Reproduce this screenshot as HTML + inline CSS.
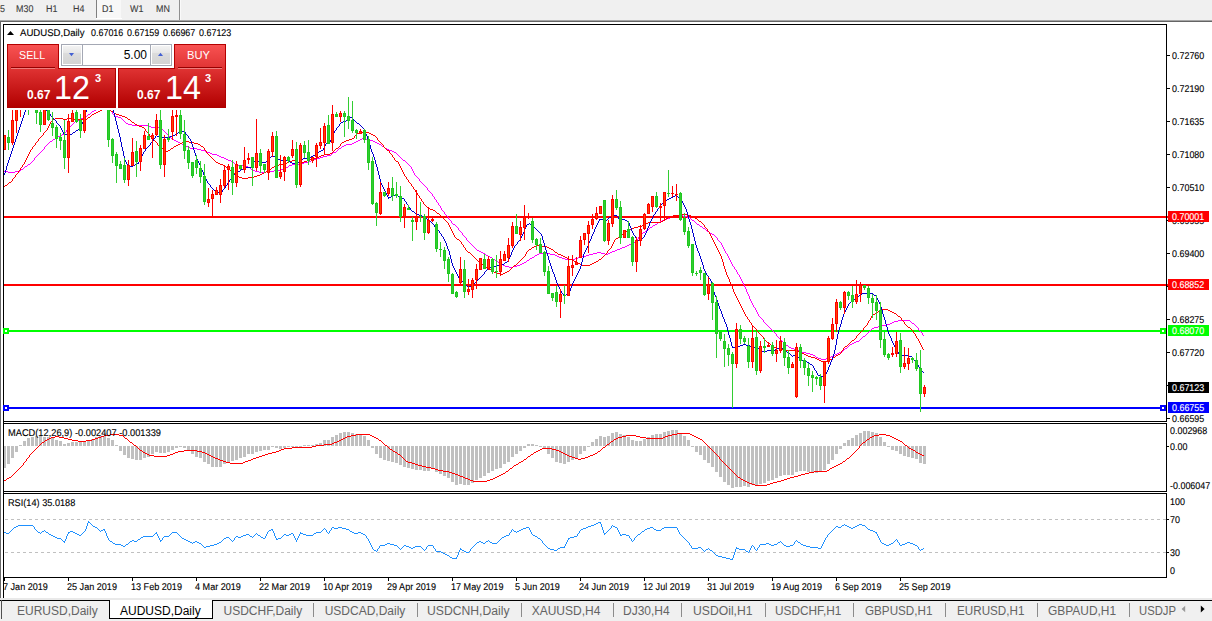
<!DOCTYPE html>
<html lang="en">
<head>
<meta charset="utf-8">
<title>AUDUSD,Daily</title>
<style>
html,body{margin:0;padding:0;background:#fff;}
body{width:1212px;height:621px;position:relative;overflow:hidden;font-family:"Liberation Sans",sans-serif;}
#chart{position:absolute;left:0;top:0;}
.t9{position:absolute;text-rendering:geometricPrecision;font-size:9.8px;line-height:11px;height:11px;white-space:pre;color:#000;transform-origin:0 0;-webkit-text-stroke:0.12px currentColor;}
.t9.w{color:#fff;}
.pbox{position:absolute;left:1168px;width:41px;height:11px;}
/* toolbar */
#tb{position:absolute;left:0;top:0;width:1212px;height:20px;background:#f0f0f0;}
#tb .b{position:absolute;text-rendering:geometricPrecision;top:3.6px;font-size:9.8px;line-height:11px;color:#3a3a3a;white-space:pre;transform:scaleX(0.911);transform-origin:0 0;-webkit-text-stroke:0.1px currentColor;}
#tbline1{position:absolute;left:0;top:20px;width:1212px;height:1px;background:#a6a6a6;}
#tbline2{position:absolute;left:0;top:21px;width:1212px;height:1px;background:#646464;}
#leftedge{position:absolute;left:0;top:21px;width:1px;height:577px;background:#696969;}
#d1{position:absolute;left:97px;top:0;width:24px;height:18px;background:#f8f8f8;}
#d1b{position:absolute;left:96px;top:18px;width:26px;height:1px;background:#fff;}
.vsep{position:absolute;top:0;width:1px;height:18px;background:#a0a0a0;}
/* trade panel */
.red{position:absolute;box-sizing:border-box;}
#sellTab{left:7px;top:44px;width:52px;height:24px;background:linear-gradient(#f85252,#e03434);border:1px solid #b40000;border-bottom:none;}
#buyTab{left:174px;top:44px;width:52px;height:24px;background:linear-gradient(#f85252,#e03434);border:1px solid #b40000;border-bottom:none;}
#sellBlk{left:7px;top:68px;width:109px;height:40px;background:linear-gradient(#df3232,#b20000);border:1px solid #ae0000;}
#buyBlk{left:118px;top:68px;width:108px;height:40px;background:linear-gradient(#df3232,#b20000);border:1px solid #ae0000;}
.patch{position:absolute;top:68px;height:1px;width:50px;background:#df3333;}
.pl{position:absolute;color:#fff;white-space:pre;}
.lbl{font-size:11.5px;line-height:12px;top:49.2px;transform-origin:0 0;}
.uline{position:absolute;top:67px;height:1px;background:#960000;}
.uline2{position:absolute;top:68px;height:1px;background:#ee7c7c;}
.sm{font-size:12px;font-weight:bold;line-height:12px;top:89.3px;}
.big{font-size:34px;line-height:34px;top:70px;transform:scaleX(0.95);transform-origin:0 0;}
.sup{font-size:11px;font-weight:bold;line-height:11px;top:73px;}
#spin{position:absolute;left:61px;top:44px;width:111px;height:22px;box-sizing:border-box;border:1px solid #a4a8b4;background:#fff;}
.sbtn{position:absolute;top:1px;width:18px;height:18px;background:linear-gradient(#f3f3f3 0,#e6e6e6 38%,#dcdcdc 40%,#d3d3d3 100%);}
.ssep{position:absolute;top:0;width:1px;height:20px;background:#a4a8b4;}
#vol{position:absolute;left:100px;top:48px;width:47px;text-align:right;font-size:12px;line-height:14px;color:#000;}
/* bottom tabs */
#tabs{position:absolute;left:0;top:598px;width:1212px;height:23px;background:#f0f0f0;}
#tabsTop{position:absolute;left:0;top:2px;width:1212px;height:1px;background:#000;}
#tabsHi{position:absolute;left:0;top:0;width:1212px;height:2px;background:#e9e9e9;}
.tab{position:absolute;top:6px;transform-origin:0 0;font-size:12px;line-height:14px;color:#646464;white-space:pre;}
.tab.act{color:#000;}
#acttab{position:absolute;left:109px;top:2px;width:104px;height:19px;background:#fff;border:1px solid #000;border-top:none;box-sizing:border-box;}
.sep{position:absolute;top:5px;width:1px;height:14px;background:#8c8c8c;}
#tabL{position:absolute;left:1px;top:2px;width:1px;height:19px;background:#505050;}
</style>
</head>
<body>
<div id="tb">
<div id="d1"></div><div id="d1b"></div>
<div class="vsep" style="left:96px;background:#808080"></div>
<div class="vsep" style="left:179px;height:20px;background:#909090"></div>
<div class="vsep" style="left:180px;height:20px;background:#fafafa"></div>
<div class="b" style="left:0px">5</div>
<div class="b" style="left:15.5px">M30</div>
<div class="b" style="left:46px">H1</div>
<div class="b" style="left:73px">H4</div>
<div class="b" style="left:102px">D1</div>
<div class="b" style="left:129.5px">W1</div>
<div class="b" style="left:156px">MN</div>
</div>
<div id="tbline1"></div><div id="tbline2"></div><div id="leftedge"></div>

<svg id="chart" width="1212" height="621" viewBox="0 0 1212 621">
<defs><clipPath id="mainclip"><rect x="4" y="25" width="1162" height="396"/></clipPath></defs>
<g shape-rendering="crispEdges">
<rect x="4" y="216" width="1164" height="2" fill="#ff0000"/>
<rect x="4" y="284" width="1164" height="2" fill="#ff0000"/>
<rect x="4" y="330" width="1162" height="2" fill="#00ff00"/>
<rect x="4" y="407" width="1162" height="2" fill="#0000ff"/>
</g>
<g clip-path="url(#mainclip)">
<path d="M34.5 158v2M44.5 147v2M66.5 130v2M112.5 112v2M331.5 153v2M411.5 167v2M412.5 169v2M413.5 171v2M414.5 173v2M419.5 179v2M427.5 188v2M432.5 194v2M434.5 197v2M436.5 200v2M438.5 203v2M440.5 206v2M441.5 208v2M444.5 212v2M448.5 217v2M451.5 221v2M458.5 228v2M462.5 233v2M466.5 238v2M638.5 237v2M717.5 238v2M721.5 243v2M722.5 245v2M723.5 247v2M724.5 249v2M725.5 251v2M727.5 254v2M728.5 256v2M729.5 258v2M730.5 260v2M731.5 262v2M732.5 264v2M734.5 267v2M736.5 270v2M737.5 272v2M739.5 275v2M740.5 277v2M741.5 279v2M742.5 281v2M743.5 283v2M744.5 285v2M745.5 287v2M746.5 289v3M747.5 292v2M748.5 294v2M749.5 296v3M750.5 299v2M751.5 301v2M752.5 303v2M753.5 305v2M755.5 308v2M756.5 310v2M757.5 312v2M758.5 314v2M763.5 320v2M776.5 334v2M918.5 328v2M922.5 333v2M4 171.5h4M15 171.5h5M255 171.5h4M266 171.5h8M8 172.5h7M259 172.5h7M20 170.5h1M253 170.5h2M274 170.5h7M21 169.5h2M251 169.5h2M281 169.5h2M23 168.5h1M250 168.5h1M283 168.5h3M24 167.5h1M248 167.5h2M286 167.5h2M25 166.5h2M246 166.5h2M288 166.5h1M410 166.5h1M27 165.5h1M236 165.5h10M289 165.5h3M409 165.5h1M28 164.5h2M235 164.5h1M292 164.5h7M408 164.5h1M30 163.5h1M234 163.5h1M299 163.5h5M407 163.5h1M31 162.5h1M233 162.5h1M304 162.5h4M406 162.5h1M32 161.5h1M231 161.5h2M308 161.5h3M405 161.5h1M33 160.5h1M228 160.5h3M311 160.5h2M403 160.5h2M35 157.5h1M221 157.5h3M320 157.5h3M400 157.5h1M36 156.5h1M219 156.5h2M323 156.5h4M399 156.5h1M37 155.5h1M217 155.5h2M327 155.5h4M398 155.5h1M38 154.5h1M212 154.5h5M397 154.5h1M39 153.5h1M210 153.5h2M332 153.5h1M396 153.5h1M40 152.5h1M207 152.5h3M333 152.5h3M394 152.5h2M41 151.5h1M205 151.5h2M336 151.5h1M392 151.5h2M42 150.5h1M201 150.5h4M337 150.5h1M389 150.5h3M43 149.5h1M197 149.5h4M338 149.5h1M387 149.5h2M45 146.5h1M186 146.5h2M342 146.5h2M382 146.5h2M46 145.5h1M184 145.5h2M344 145.5h2M381 145.5h1M47 144.5h1M182 144.5h2M346 144.5h6M379 144.5h2M48 143.5h1M180 143.5h2M352 143.5h2M377 143.5h2M49 142.5h1M178 142.5h2M354 142.5h2M375 142.5h2M50 141.5h2M176 141.5h2M356 141.5h2M373 141.5h2M52 140.5h1M174 140.5h2M358 140.5h2M369 140.5h4M53 139.5h2M172 139.5h2M360 139.5h2M365 139.5h4M55 138.5h1M171 138.5h1M362 138.5h3M56 137.5h2M170 137.5h1M58 136.5h2M169 136.5h1M60 135.5h2M168 135.5h1M62 134.5h2M167 134.5h1M64 133.5h1M166 133.5h1M65 132.5h1M165 132.5h1M67 129.5h1M161 129.5h2M68 128.5h1M160 128.5h1M69 127.5h1M151 127.5h9M70 126.5h1M148 126.5h3M71 125.5h1M132 125.5h16M72 124.5h1M128 124.5h4M73 123.5h1M126 123.5h2M74 122.5h1M125 122.5h1M75 121.5h2M124 121.5h1M77 120.5h2M123 120.5h1M79 119.5h2M122 119.5h1M81 118.5h2M121 118.5h1M83 117.5h2M118 117.5h3M85 116.5h2M115 116.5h3M87 115.5h1M114 115.5h1M88 114.5h2M113 114.5h1M90 113.5h1M91 112.5h1M92 111.5h2M111 111.5h1M94 110.5h2M110 110.5h1M96 109.5h2M108 109.5h2M98 108.5h2M107 108.5h1M100 107.5h7M163 130.5h1M164 131.5h1M188 147.5h2M341 147.5h1M384 147.5h1M190 148.5h7M339 148.5h2M385 148.5h2M224 158.5h2M316 158.5h4M401 158.5h1M226 159.5h2M313 159.5h3M402 159.5h1M415 175.5h1M416 176.5h1M417 177.5h1M418 178.5h1M420 181.5h1M421 182.5h1M422 183.5h1M423 184.5h1M424 185.5h1M425 186.5h1M426 187.5h1M428 190.5h1M429 191.5h1M430 192.5h1M431 193.5h1M433 196.5h1M435 199.5h1M437 202.5h1M439 205.5h1M442 210.5h1M443 211.5h1M445 214.5h1M446 215.5h1M673 215.5h10M447 216.5h1M671 216.5h2M683 216.5h4M449 219.5h1M664 219.5h3M691 219.5h1M450 220.5h1M662 220.5h2M692 220.5h2M452 223.5h1M657 223.5h1M696 223.5h1M453 224.5h2M655 224.5h2M697 224.5h2M455 225.5h1M653 225.5h2M699 225.5h1M456 226.5h1M652 226.5h1M700 226.5h2M457 227.5h1M650 227.5h2M702 227.5h1M459 230.5h1M646 230.5h1M706 230.5h1M460 231.5h1M645 231.5h1M707 231.5h2M461 232.5h1M643 232.5h2M709 232.5h1M463 235.5h1M640 235.5h1M714 235.5h1M464 236.5h1M639 236.5h1M715 236.5h1M465 237.5h1M716 237.5h1M467 240.5h1M636 240.5h1M718 240.5h1M468 241.5h1M635 241.5h1M719 241.5h1M469 242.5h1M633 242.5h2M720 242.5h1M470 243.5h1M631 243.5h2M471 244.5h1M629 244.5h2M472 245.5h1M627 245.5h2M473 246.5h1M625 246.5h2M474 247.5h1M622 247.5h3M475 248.5h1M620 248.5h2M476 249.5h1M617 249.5h3M477 250.5h2M615 250.5h2M479 251.5h2M612 251.5h3M481 252.5h2M597 252.5h4M610 252.5h2M483 253.5h2M539 253.5h11M593 253.5h4M601 253.5h4M608 253.5h2M726 253.5h1M485 254.5h1M537 254.5h2M550 254.5h5M589 254.5h4M605 254.5h3M486 255.5h2M535 255.5h2M555 255.5h2M586 255.5h3M488 256.5h2M534 256.5h1M557 256.5h2M582 256.5h4M490 257.5h2M532 257.5h2M559 257.5h3M578 257.5h4M492 258.5h1M530 258.5h2M562 258.5h3M575 258.5h3M493 259.5h2M529 259.5h1M565 259.5h10M495 260.5h1M527 260.5h2M496 261.5h2M526 261.5h1M498 262.5h2M524 262.5h2M500 263.5h1M522 263.5h2M501 264.5h2M520 264.5h2M503 265.5h2M517 265.5h3M505 266.5h4M513 266.5h4M733 266.5h1M509 267.5h4M637 239.5h1M641 234.5h1M712 234.5h2M642 233.5h1M710 233.5h2M647 229.5h2M705 229.5h1M649 228.5h1M703 228.5h2M658 222.5h2M695 222.5h1M660 221.5h2M694 221.5h1M667 218.5h3M690 218.5h1M670 217.5h1M687 217.5h3M735 269.5h1M738 274.5h1M754 307.5h1M759 316.5h1M760 317.5h1M761 318.5h1M762 319.5h1M764 322.5h1M892 322.5h2M911 322.5h1M765 323.5h1M890 323.5h2M912 323.5h2M766 324.5h1M886 324.5h4M914 324.5h1M767 325.5h1M882 325.5h4M915 325.5h1M768 326.5h1M878 326.5h4M916 326.5h1M769 327.5h1M874 327.5h4M917 327.5h1M770 328.5h1M872 328.5h2M771 329.5h1M871 329.5h1M772 330.5h1M870 330.5h1M919 330.5h1M773 331.5h1M869 331.5h1M920 331.5h1M774 332.5h1M868 332.5h1M921 332.5h1M775 333.5h1M867 333.5h1M777 336.5h1M863 336.5h2M778 337.5h1M862 337.5h1M779 338.5h1M861 338.5h1M780 339.5h1M860 339.5h1M781 340.5h1M859 340.5h1M782 341.5h1M856 341.5h3M783 342.5h1M854 342.5h2M784 343.5h1M852 343.5h2M785 344.5h1M850 344.5h2M786 345.5h2M849 345.5h1M788 346.5h1M848 346.5h1M789 347.5h2M847 347.5h1M791 348.5h3M845 348.5h2M794 349.5h4M844 349.5h1M798 350.5h2M843 350.5h1M800 351.5h2M841 351.5h2M802 352.5h4M839 352.5h2M806 353.5h4M837 353.5h2M810 354.5h3M835 354.5h2M813 355.5h2M833 355.5h2M815 356.5h1M831 356.5h2M816 357.5h2M828 357.5h3M818 358.5h3M826 358.5h2M821 359.5h5M865 335.5h1M923 335.5h1M866 334.5h1M894 321.5h4M910 321.5h1M898 320.5h12" fill="none" stroke="#ff00ff" stroke-width="1" shape-rendering="crispEdges"/>
<path d="M12.5 179v2M15.5 175v2M18.5 171v2M20.5 168v2M22.5 165v2M24.5 162v2M25.5 160v2M26.5 158v2M27.5 156v2M28.5 154v2M29.5 152v2M30.5 150v2M32.5 147v2M35.5 143v2M38.5 139v2M43.5 133v2M47.5 128v2M48.5 126v2M49.5 124v2M50.5 122v2M145.5 129v2M149.5 134v2M157.5 143v2M204.5 148v2M206.5 151v2M340.5 144v2M354.5 136v2M377.5 138v2M383.5 145v2M389.5 151v2M392.5 155v2M394.5 158v2M398.5 162v2M399.5 164v2M400.5 166v2M401.5 168v2M402.5 170v2M403.5 172v2M404.5 174v2M406.5 177v2M408.5 180v2M411.5 184v2M413.5 187v2M415.5 190v2M417.5 193v2M419.5 196v2M421.5 199v2M423.5 202v2M448.5 223v2M449.5 225v2M450.5 227v2M451.5 229v2M452.5 231v2M453.5 233v2M454.5 235v2M461.5 242v2M463.5 245v2M465.5 248v2M525.5 254v2M526.5 252v2M607.5 251v2M611.5 246v2M612.5 244v2M613.5 242v2M614.5 240v2M704.5 225v2M707.5 229v2M709.5 232v2M710.5 234v2M711.5 236v2M712.5 238v2M713.5 240v2M714.5 242v2M715.5 244v2M716.5 246v2M717.5 248v2M718.5 250v2M719.5 252v2M720.5 254v2M721.5 256v3M722.5 259v3M723.5 262v4M724.5 266v3M725.5 269v3M726.5 272v3M727.5 275v2M728.5 277v2M729.5 279v3M730.5 282v2M731.5 284v2M732.5 286v3M733.5 289v3M734.5 292v2M735.5 294v2M736.5 296v2M737.5 298v2M738.5 300v2M739.5 302v2M740.5 304v2M741.5 306v2M742.5 308v2M743.5 310v2M744.5 312v2M745.5 314v2M747.5 317v2M749.5 320v2M751.5 323v2M756.5 329v2M763.5 337v2M841.5 351v2M843.5 348v2M856.5 336v2M863.5 328v2M867.5 323v2M868.5 321v2M870.5 318v2M871.5 316v2M901.5 318v2M904.5 322v2M913.5 331v2M915.5 334v2M916.5 336v2M918.5 339v2M919.5 341v2M920.5 343v2M921.5 345v2M922.5 347v2M4 186.5h1M412 186.5h1M5 185.5h2M7 184.5h1M8 183.5h1M410 183.5h1M9 182.5h2M409 182.5h1M11 181.5h1M13 178.5h1M242 178.5h6M14 177.5h1M239 177.5h3M248 177.5h6M16 174.5h1M235 174.5h1M260 174.5h2M17 173.5h1M234 173.5h1M262 173.5h2M19 170.5h1M230 170.5h2M268 170.5h1M21 167.5h1M226 167.5h2M272 167.5h2M23 164.5h1M220 164.5h3M279 164.5h4M31 149.5h1M163 149.5h1M170 149.5h1M335 149.5h1M386 149.5h1M33 146.5h1M159 146.5h1M174 146.5h2M201 146.5h2M339 146.5h1M34 145.5h1M158 145.5h1M176 145.5h2M200 145.5h1M36 142.5h1M156 142.5h1M182 142.5h4M189 142.5h5M342 142.5h2M380 142.5h1M37 141.5h1M155 141.5h1M186 141.5h3M344 141.5h2M379 141.5h1M39 138.5h1M152 138.5h1M352 138.5h2M40 137.5h1M151 137.5h1M376 137.5h1M41 136.5h1M150 136.5h1M375 136.5h1M42 135.5h1M355 135.5h1M373 135.5h2M44 132.5h1M147 132.5h1M359 132.5h10M45 131.5h1M146 131.5h1M46 130.5h1M51 121.5h1M131 121.5h1M52 120.5h1M130 120.5h1M53 119.5h2M63 119.5h4M74 119.5h13M128 119.5h2M55 118.5h8M67 118.5h7M87 118.5h1M127 118.5h1M88 117.5h2M125 117.5h2M90 116.5h1M122 116.5h3M91 115.5h1M119 115.5h3M92 114.5h2M116 114.5h3M94 113.5h2M114 113.5h2M96 112.5h2M113 112.5h1M98 111.5h2M111 111.5h2M100 110.5h2M109 110.5h2M102 109.5h2M107 109.5h2M104 108.5h3M132 122.5h2M134 123.5h1M135 124.5h2M137 125.5h2M139 126.5h3M142 127.5h2M144 128.5h1M148 133.5h1M357 133.5h2M369 133.5h2M153 139.5h1M349 139.5h3M154 140.5h1M346 140.5h3M378 140.5h1M160 147.5h2M173 147.5h1M203 147.5h1M338 147.5h1M384 147.5h1M162 148.5h1M171 148.5h2M336 148.5h2M385 148.5h1M164 150.5h2M168 150.5h2M205 150.5h1M334 150.5h1M387 150.5h2M166 151.5h2M333 151.5h1M178 144.5h2M198 144.5h2M382 144.5h1M180 143.5h2M194 143.5h4M341 143.5h1M381 143.5h1M207 153.5h1M330 153.5h2M390 153.5h1M208 154.5h1M324 154.5h6M391 154.5h1M209 155.5h1M321 155.5h3M210 156.5h1M319 156.5h2M211 157.5h1M317 157.5h2M393 157.5h1M212 158.5h1M314 158.5h3M213 159.5h1M310 159.5h4M214 160.5h1M292 160.5h4M307 160.5h3M395 160.5h1M215 161.5h1M289 161.5h3M296 161.5h2M304 161.5h3M396 161.5h2M216 162.5h2M287 162.5h2M298 162.5h6M218 163.5h2M283 163.5h4M223 165.5h2M276 165.5h3M225 166.5h1M274 166.5h2M228 168.5h1M271 168.5h1M229 169.5h1M269 169.5h2M232 171.5h1M266 171.5h2M233 172.5h1M264 172.5h2M236 175.5h1M257 175.5h3M237 176.5h2M254 176.5h3M405 176.5h1M332 152.5h1M356 134.5h1M371 134.5h2M407 179.5h1M414 189.5h1M416 192.5h1M418 195.5h1M420 198.5h1M422 201.5h1M424 204.5h1M425 205.5h1M426 206.5h1M427 207.5h1M428 208.5h2M430 209.5h3M433 210.5h2M435 211.5h1M436 212.5h1M437 213.5h2M439 214.5h1M680 214.5h7M440 215.5h1M673 215.5h7M687 215.5h4M441 216.5h1M671 216.5h2M691 216.5h2M442 217.5h1M668 217.5h3M693 217.5h2M443 218.5h1M666 218.5h2M695 218.5h2M444 219.5h1M665 219.5h1M697 219.5h1M445 220.5h1M663 220.5h2M698 220.5h1M446 221.5h1M661 221.5h2M699 221.5h2M447 222.5h1M648 222.5h13M701 222.5h1M455 237.5h1M618 237.5h2M456 238.5h1M616 238.5h2M457 239.5h2M615 239.5h1M459 240.5h1M460 241.5h1M462 244.5h1M464 247.5h1M532 247.5h2M547 247.5h2M466 250.5h1M528 250.5h1M553 250.5h1M608 250.5h1M467 251.5h1M527 251.5h1M554 251.5h1M468 252.5h2M555 252.5h2M470 253.5h1M557 253.5h1M606 253.5h1M471 254.5h1M558 254.5h3M605 254.5h1M472 255.5h1M561 255.5h2M604 255.5h1M473 256.5h1M524 256.5h1M563 256.5h2M603 256.5h1M474 257.5h1M523 257.5h1M565 257.5h2M602 257.5h1M475 258.5h1M522 258.5h1M567 258.5h2M601 258.5h1M476 259.5h1M521 259.5h1M569 259.5h3M599 259.5h2M477 260.5h1M520 260.5h1M572 260.5h2M598 260.5h1M478 261.5h1M519 261.5h1M574 261.5h2M596 261.5h2M479 262.5h2M518 262.5h1M576 262.5h2M594 262.5h2M481 263.5h1M517 263.5h1M578 263.5h2M592 263.5h2M482 264.5h2M516 264.5h1M580 264.5h2M590 264.5h2M484 265.5h1M514 265.5h2M582 265.5h8M485 266.5h1M513 266.5h1M486 267.5h2M512 267.5h1M488 268.5h1M511 268.5h1M489 269.5h2M510 269.5h1M491 270.5h1M509 270.5h1M492 271.5h2M507 271.5h2M494 272.5h2M505 272.5h2M496 273.5h4M503 273.5h2M500 274.5h3M529 249.5h2M551 249.5h2M609 249.5h1M531 248.5h1M549 248.5h2M610 248.5h1M534 246.5h3M542 246.5h5M537 245.5h5M620 236.5h1M621 235.5h1M622 234.5h2M624 233.5h1M625 232.5h1M626 231.5h2M708 231.5h1M628 230.5h2M630 229.5h2M632 228.5h2M706 228.5h1M634 227.5h4M705 227.5h1M638 226.5h4M642 225.5h2M644 224.5h2M703 224.5h1M646 223.5h2M702 223.5h1M746 316.5h1M898 316.5h2M748 319.5h1M750 322.5h1M752 325.5h1M866 325.5h1M906 325.5h1M753 326.5h1M865 326.5h1M907 326.5h1M754 327.5h1M864 327.5h1M908 327.5h2M755 328.5h1M910 328.5h1M757 331.5h1M861 331.5h1M758 332.5h1M860 332.5h1M759 333.5h1M859 333.5h1M914 333.5h1M760 334.5h1M858 334.5h1M761 335.5h1M857 335.5h1M762 336.5h1M764 339.5h1M854 339.5h1M765 340.5h1M852 340.5h2M766 341.5h1M851 341.5h1M767 342.5h1M850 342.5h1M768 343.5h2M849 343.5h1M770 344.5h1M848 344.5h1M771 345.5h1M847 345.5h1M772 346.5h2M845 346.5h2M774 347.5h2M844 347.5h1M776 348.5h3M779 349.5h5M923 349.5h1M784 350.5h14M842 350.5h1M798 351.5h2M800 352.5h2M802 353.5h2M840 353.5h1M804 354.5h2M838 354.5h2M806 355.5h2M836 355.5h2M808 356.5h3M835 356.5h1M811 357.5h4M833 357.5h2M815 358.5h2M832 358.5h1M817 359.5h2M830 359.5h2M819 360.5h2M829 360.5h1M821 361.5h8M855 338.5h1M917 338.5h1M862 330.5h1M912 330.5h1M869 320.5h1M902 320.5h1M872 315.5h1M897 315.5h1M873 314.5h2M896 314.5h1M875 313.5h1M894 313.5h2M876 312.5h2M892 312.5h2M878 311.5h1M890 311.5h2M879 310.5h2M888 310.5h2M881 309.5h7M900 317.5h1M903 321.5h1M905 324.5h1M911 329.5h1" fill="none" stroke="#ff0000" stroke-width="1" shape-rendering="crispEdges"/>
<path d="M4.5 173v2M5.5 170v3M6.5 166v4M7.5 163v3M8.5 160v3M9.5 157v3M10.5 154v3M11.5 151v3M12.5 148v3M13.5 145v3M14.5 142v3M15.5 139v3M16.5 136v3M17.5 133v3M18.5 130v3M19.5 127v3M20.5 124v3M21.5 121v3M22.5 118v3M23.5 115v3M24.5 112v3M25.5 109v3M26.5 107v2M27.5 104v3M28.5 101v3M29.5 99v2M30.5 97v2M38.5 92v2M39.5 94v2M40.5 96v2M41.5 98v2M42.5 100v3M43.5 103v2M44.5 105v2M45.5 107v2M46.5 109v2M50.5 114v2M56.5 121v2M60.5 126v2M61.5 128v2M62.5 130v2M63.5 132v2M79.5 127v2M81.5 124v2M82.5 122v2M83.5 119v3M84.5 115v4M85.5 112v3M86.5 109v3M87.5 107v2M88.5 105v2M89.5 102v3M90.5 100v2M91.5 98v2M92.5 96v2M108.5 96v2M109.5 98v3M110.5 101v2M111.5 103v3M112.5 106v3M113.5 109v4M114.5 113v4M115.5 117v4M116.5 121v4M117.5 125v4M118.5 129v4M119.5 133v4M120.5 137v5M121.5 142v5M122.5 147v4M123.5 151v5M124.5 156v4M125.5 160v2M126.5 162v2M127.5 164v2M138.5 162v2M139.5 160v2M140.5 158v2M141.5 156v2M142.5 154v2M143.5 152v2M145.5 149v2M150.5 143v2M153.5 139v2M155.5 136v2M185.5 132v2M188.5 136v2M190.5 139v2M191.5 141v3M192.5 144v3M193.5 147v3M194.5 150v3M195.5 153v3M196.5 156v3M197.5 159v2M198.5 161v2M199.5 163v2M200.5 165v3M201.5 168v2M202.5 170v2M203.5 172v3M204.5 175v2M205.5 177v2M206.5 179v2M207.5 181v2M210.5 185v2M222.5 190v2M225.5 186v2M227.5 183v2M229.5 180v2M232.5 176v2M251.5 165v2M252.5 163v2M253.5 161v2M323.5 148v2M324.5 146v2M325.5 144v2M330.5 140v2M331.5 138v2M332.5 135v3M333.5 133v2M334.5 131v2M336.5 128v2M339.5 124v2M364.5 129v2M365.5 131v3M366.5 134v2M367.5 136v3M368.5 139v3M369.5 142v3M370.5 145v4M371.5 149v3M372.5 152v2M373.5 154v3M374.5 157v3M375.5 160v4M376.5 164v3M377.5 167v4M378.5 171v4M379.5 175v4M380.5 179v4M381.5 183v2M382.5 185v2M383.5 187v2M384.5 189v2M385.5 191v2M386.5 193v2M387.5 195v2M388.5 197v2M404.5 199v2M406.5 202v2M408.5 205v2M410.5 208v2M434.5 225v2M439.5 231v2M441.5 234v2M443.5 237v2M444.5 239v2M445.5 241v2M446.5 243v3M447.5 246v3M448.5 249v2M449.5 251v4M450.5 255v4M451.5 259v4M452.5 263v3M453.5 266v2M454.5 268v2M455.5 270v2M456.5 272v2M457.5 274v2M458.5 276v2M484.5 272v2M508.5 259v2M509.5 257v2M510.5 255v2M511.5 252v3M512.5 250v2M513.5 248v2M514.5 246v2M517.5 242v2M520.5 238v2M521.5 236v2M522.5 234v2M523.5 232v2M524.5 229v3M525.5 227v2M526.5 225v2M541.5 234v2M542.5 236v4M543.5 240v3M544.5 243v4M545.5 247v3M546.5 250v3M547.5 253v3M548.5 256v4M549.5 260v3M550.5 263v3M551.5 266v3M552.5 269v3M553.5 272v2M554.5 274v3M555.5 277v3M556.5 280v3M557.5 283v2M558.5 285v2M559.5 287v2M560.5 289v2M561.5 291v2M568.5 293v2M569.5 291v2M570.5 288v3M571.5 286v2M572.5 283v3M573.5 281v2M574.5 279v2M575.5 277v2M576.5 275v2M577.5 273v2M578.5 271v2M579.5 269v2M580.5 266v3M581.5 262v4M582.5 258v4M583.5 254v4M584.5 252v2M585.5 250v2M586.5 248v2M587.5 246v2M588.5 243v3M589.5 241v2M590.5 239v2M591.5 236v3M592.5 234v2M593.5 232v2M594.5 229v3M595.5 227v2M596.5 225v2M597.5 223v2M598.5 221v2M599.5 219v2M618.5 217v2M628.5 221v2M629.5 223v3M630.5 226v2M631.5 228v3M632.5 231v2M633.5 233v2M635.5 236v2M636.5 238v2M644.5 235v2M645.5 233v2M646.5 231v2M647.5 228v3M648.5 226v2M649.5 223v3M650.5 221v2M651.5 219v2M652.5 217v2M653.5 215v2M655.5 212v2M657.5 209v2M659.5 206v2M681.5 199v2M682.5 201v2M683.5 203v2M684.5 205v2M685.5 207v2M686.5 209v3M687.5 212v3M688.5 215v4M689.5 219v3M690.5 222v3M691.5 225v4M692.5 229v4M693.5 233v4M694.5 237v4M695.5 241v4M696.5 245v3M697.5 248v3M698.5 251v2M699.5 253v3M700.5 256v3M701.5 259v3M702.5 262v3M703.5 265v4M704.5 269v2M705.5 271v2M706.5 273v2M708.5 276v2M710.5 279v2M711.5 281v2M712.5 283v4M713.5 287v5M714.5 292v3M715.5 295v2M716.5 297v3M717.5 300v3M718.5 303v3M719.5 306v3M720.5 309v2M721.5 311v3M722.5 314v3M723.5 317v2M724.5 319v3M725.5 322v2M726.5 324v3M727.5 327v4M728.5 331v4M729.5 335v3M730.5 338v4M731.5 342v4M732.5 346v2M813.5 366v2M814.5 368v2M816.5 371v2M817.5 373v2M826.5 372v2M827.5 370v2M828.5 367v3M829.5 365v2M830.5 362v3M831.5 360v2M832.5 357v3M833.5 354v3M834.5 350v4M835.5 345v5M836.5 339v6M837.5 334v5M838.5 330v4M839.5 327v3M840.5 324v3M841.5 320v4M842.5 317v3M843.5 314v3M844.5 312v2M845.5 310v2M846.5 308v2M847.5 306v2M848.5 304v2M876.5 296v2M877.5 298v2M878.5 300v2M879.5 302v2M880.5 304v3M881.5 307v3M882.5 310v4M883.5 314v3M884.5 317v3M885.5 320v4M886.5 324v3M887.5 327v4M888.5 331v3M889.5 334v2M890.5 336v2M891.5 338v3M892.5 341v2M893.5 343v2M894.5 345v2M895.5 347v2M897.5 350v2M898.5 352v2M912.5 357v2M915.5 361v2M918.5 365v2M921.5 369v2M31 96.5h2M33 95.5h1M93 95.5h1M106 95.5h2M34 94.5h2M94 94.5h2M105 94.5h1M36 93.5h2M96 93.5h1M104 93.5h1M47 111.5h1M48 112.5h1M49 113.5h1M51 116.5h1M52 117.5h1M349 117.5h3M53 118.5h1M348 118.5h1M352 118.5h1M54 119.5h1M347 119.5h1M353 119.5h1M55 120.5h1M346 120.5h1M354 120.5h1M57 123.5h1M340 123.5h1M357 123.5h2M58 124.5h1M359 124.5h1M59 125.5h1M360 125.5h1M64 134.5h3M70 134.5h2M175 134.5h2M186 134.5h1M67 135.5h3M156 135.5h1M172 135.5h3M187 135.5h1M72 133.5h1M177 133.5h1M73 132.5h2M178 132.5h1M75 131.5h1M179 131.5h1M182 131.5h3M76 130.5h2M180 130.5h2M335 130.5h1M78 129.5h1M80 126.5h1M338 126.5h1M361 126.5h1M97 92.5h1M102 92.5h2M98 91.5h2M101 91.5h1M100 90.5h1M128 165.5h2M133 165.5h2M130 166.5h3M135 164.5h2M137 163.5h1M292 163.5h4M144 151.5h1M319 151.5h2M146 148.5h1M147 147.5h1M148 146.5h1M149 145.5h1M151 142.5h1M328 142.5h2M152 141.5h1M154 138.5h1M189 138.5h1M157 136.5h2M170 136.5h2M159 137.5h11M208 183.5h1M209 184.5h1M211 187.5h1M212 188.5h1M224 188.5h1M213 189.5h1M223 189.5h1M214 190.5h2M216 191.5h2M218 192.5h4M226 185.5h1M228 182.5h1M230 179.5h1M231 178.5h1M233 175.5h1M234 174.5h2M236 173.5h1M237 172.5h1M238 171.5h2M240 170.5h1M241 169.5h2M243 168.5h2M245 167.5h6M254 161.5h8M266 161.5h1M288 161.5h2M299 161.5h1M262 162.5h4M290 162.5h2M296 162.5h3M267 160.5h1M280 160.5h8M300 160.5h2M268 159.5h1M278 159.5h2M302 159.5h1M269 158.5h1M276 158.5h2M303 158.5h6M270 157.5h1M275 157.5h1M309 157.5h2M271 156.5h1M273 156.5h2M311 156.5h2M272 155.5h1M313 155.5h2M315 154.5h1M316 153.5h2M318 152.5h1M321 150.5h2M326 143.5h2M337 127.5h1M362 127.5h1M341 122.5h2M356 122.5h1M343 121.5h3M355 121.5h1M363 128.5h1M389 197.5h2M400 197.5h2M671 197.5h2M678 197.5h2M391 196.5h2M398 196.5h2M673 196.5h2M677 196.5h1M393 195.5h2M396 195.5h2M675 195.5h2M395 194.5h1M402 198.5h2M669 198.5h2M680 198.5h1M405 201.5h1M665 201.5h1M407 204.5h1M661 204.5h1M409 207.5h1M411 210.5h1M412 211.5h2M656 211.5h1M414 212.5h1M415 213.5h2M417 214.5h2M654 214.5h1M419 215.5h3M612 215.5h5M422 216.5h2M611 216.5h1M617 216.5h1M424 217.5h1M609 217.5h2M425 218.5h2M608 218.5h1M427 219.5h1M600 219.5h4M607 219.5h1M619 219.5h6M428 220.5h2M604 220.5h3M625 220.5h2M430 221.5h1M627 221.5h1M431 222.5h1M432 223.5h1M529 223.5h1M433 224.5h1M527 224.5h2M530 224.5h1M435 227.5h1M534 227.5h1M436 228.5h1M535 228.5h1M437 229.5h1M536 229.5h1M438 230.5h1M537 230.5h1M440 233.5h1M540 233.5h1M442 236.5h1M459 278.5h1M479 278.5h1M709 278.5h1M460 279.5h1M478 279.5h1M461 280.5h1M477 280.5h1M462 281.5h1M476 281.5h1M463 282.5h1M475 282.5h1M464 283.5h1M473 283.5h2M465 284.5h1M472 284.5h1M466 285.5h1M471 285.5h1M467 286.5h1M469 286.5h2M468 287.5h1M480 277.5h1M481 276.5h1M482 275.5h1M707 275.5h1M483 274.5h1M485 271.5h1M486 270.5h1M487 269.5h1M488 268.5h2M490 267.5h3M493 266.5h3M496 265.5h4M500 264.5h4M504 263.5h1M505 262.5h2M507 261.5h1M515 245.5h1M516 244.5h1M518 241.5h1M519 240.5h1M637 240.5h4M531 225.5h2M533 226.5h1M538 231.5h1M539 232.5h1M562 293.5h1M862 293.5h11M563 294.5h1M566 294.5h2M860 294.5h2M873 294.5h1M564 295.5h2M859 295.5h1M874 295.5h2M634 235.5h1M641 239.5h1M642 238.5h1M643 237.5h1M658 208.5h1M660 205.5h1M662 203.5h1M663 202.5h2M666 200.5h1M667 199.5h2M733 347.5h2M754 347.5h3M779 347.5h2M735 346.5h5M750 346.5h4M740 345.5h3M746 345.5h4M743 344.5h3M757 348.5h2M777 348.5h2M781 348.5h2M759 349.5h1M775 349.5h2M783 349.5h2M896 349.5h1M760 350.5h2M767 350.5h8M785 350.5h1M762 351.5h2M765 351.5h2M786 351.5h1M764 352.5h1M787 352.5h1M788 353.5h2M790 354.5h1M795 354.5h1M899 354.5h3M791 355.5h1M793 355.5h2M796 355.5h1M902 355.5h6M792 356.5h1M797 356.5h1M908 356.5h4M798 357.5h1M799 358.5h1M800 359.5h1M913 359.5h1M801 360.5h2M914 360.5h1M803 361.5h4M807 362.5h2M809 363.5h1M916 363.5h1M810 364.5h2M917 364.5h1M812 365.5h1M815 370.5h1M818 375.5h2M823 375.5h1M820 376.5h3M824 374.5h2M849 303.5h1M850 302.5h1M851 301.5h2M853 300.5h1M854 299.5h1M855 298.5h2M857 297.5h1M858 296.5h1M919 367.5h1M920 368.5h1M922 371.5h1M923 372.5h1" fill="none" stroke="#0000cd" stroke-width="1" shape-rendering="crispEdges"/>
<g shape-rendering="crispEdges">
<rect x="4" y="135" width="1" height="15" fill="#ff0000"/>
<rect x="3" y="135" width="3" height="15" fill="#ff0000"/>
<rect x="4" y="136" width="1" height="13" fill="#ff4500"/>
<rect x="8" y="130" width="1" height="20" fill="#32cd32"/>
<rect x="7" y="137" width="3" height="6" fill="#1fc81f"/>
<rect x="8" y="138" width="1" height="4" fill="#32cd32"/>
<rect x="12" y="100" width="1" height="45" fill="#ff0000"/>
<rect x="11" y="120" width="3" height="23" fill="#ff0000"/>
<rect x="12" y="121" width="1" height="21" fill="#ff4500"/>
<rect x="16" y="100" width="1" height="33" fill="#ff0000"/>
<rect x="15" y="100" width="3" height="21" fill="#ff0000"/>
<rect x="16" y="101" width="1" height="19" fill="#ff4500"/>
<rect x="20" y="96" width="1" height="21" fill="#ff0000"/>
<rect x="19" y="98" width="3" height="7" fill="#ff0000"/>
<rect x="20" y="99" width="1" height="5" fill="#ff4500"/>
<rect x="24" y="92" width="1" height="16" fill="#ff0000"/>
<rect x="23" y="95" width="3" height="9" fill="#ff0000"/>
<rect x="24" y="96" width="1" height="7" fill="#ff4500"/>
<rect x="28" y="94" width="1" height="21" fill="#32cd32"/>
<rect x="27" y="97" width="3" height="9" fill="#1fc81f"/>
<rect x="28" y="98" width="1" height="7" fill="#32cd32"/>
<rect x="32" y="92" width="1" height="16" fill="#ff0000"/>
<rect x="31" y="96" width="3" height="9" fill="#ff0000"/>
<rect x="32" y="97" width="1" height="7" fill="#ff4500"/>
<rect x="36" y="95" width="1" height="29" fill="#32cd32"/>
<rect x="35" y="98" width="3" height="15" fill="#1fc81f"/>
<rect x="36" y="99" width="1" height="13" fill="#32cd32"/>
<rect x="40" y="100" width="1" height="32" fill="#32cd32"/>
<rect x="39" y="112" width="3" height="13" fill="#1fc81f"/>
<rect x="40" y="113" width="1" height="11" fill="#32cd32"/>
<rect x="44" y="100" width="1" height="25" fill="#ff0000"/>
<rect x="43" y="100" width="3" height="25" fill="#ff0000"/>
<rect x="44" y="101" width="1" height="23" fill="#ff4500"/>
<rect x="48" y="100" width="1" height="21" fill="#32cd32"/>
<rect x="47" y="100" width="3" height="20" fill="#1fc81f"/>
<rect x="48" y="101" width="1" height="18" fill="#32cd32"/>
<rect x="52" y="112" width="1" height="24" fill="#32cd32"/>
<rect x="51" y="123" width="3" height="5" fill="#1fc81f"/>
<rect x="52" y="124" width="1" height="3" fill="#32cd32"/>
<rect x="56" y="125" width="1" height="23" fill="#32cd32"/>
<rect x="55" y="127" width="3" height="12" fill="#1fc81f"/>
<rect x="56" y="128" width="1" height="10" fill="#32cd32"/>
<rect x="60" y="133" width="1" height="17" fill="#32cd32"/>
<rect x="59" y="137" width="3" height="4" fill="#1fc81f"/>
<rect x="60" y="138" width="1" height="2" fill="#32cd32"/>
<rect x="64" y="120" width="1" height="49" fill="#32cd32"/>
<rect x="63" y="140" width="3" height="18" fill="#1fc81f"/>
<rect x="64" y="141" width="1" height="16" fill="#32cd32"/>
<rect x="68" y="114" width="1" height="59" fill="#ff0000"/>
<rect x="67" y="121" width="3" height="37" fill="#ff0000"/>
<rect x="68" y="122" width="1" height="35" fill="#ff4500"/>
<rect x="72" y="100" width="1" height="22" fill="#ff0000"/>
<rect x="71" y="113" width="3" height="9" fill="#ff0000"/>
<rect x="72" y="114" width="1" height="7" fill="#ff4500"/>
<rect x="76" y="100" width="1" height="23" fill="#32cd32"/>
<rect x="75" y="112" width="3" height="10" fill="#1fc81f"/>
<rect x="76" y="113" width="1" height="8" fill="#32cd32"/>
<rect x="80" y="114" width="1" height="24" fill="#32cd32"/>
<rect x="79" y="120" width="3" height="11" fill="#1fc81f"/>
<rect x="80" y="121" width="1" height="9" fill="#32cd32"/>
<rect x="84" y="100" width="1" height="33" fill="#ff0000"/>
<rect x="83" y="100" width="3" height="31" fill="#ff0000"/>
<rect x="84" y="101" width="1" height="29" fill="#ff4500"/>
<rect x="88" y="88" width="1" height="17" fill="#ff0000"/>
<rect x="87" y="92" width="3" height="8" fill="#ff0000"/>
<rect x="88" y="93" width="1" height="6" fill="#ff4500"/>
<rect x="92" y="85" width="1" height="15" fill="#ff0000"/>
<rect x="91" y="88" width="3" height="8" fill="#ff0000"/>
<rect x="92" y="89" width="1" height="6" fill="#ff4500"/>
<rect x="96" y="84" width="1" height="16" fill="#32cd32"/>
<rect x="95" y="88" width="3" height="7" fill="#1fc81f"/>
<rect x="96" y="89" width="1" height="5" fill="#32cd32"/>
<rect x="100" y="82" width="1" height="17" fill="#ff0000"/>
<rect x="99" y="85" width="3" height="10" fill="#ff0000"/>
<rect x="100" y="86" width="1" height="8" fill="#ff4500"/>
<rect x="104" y="84" width="1" height="20" fill="#32cd32"/>
<rect x="103" y="86" width="3" height="14" fill="#1fc81f"/>
<rect x="104" y="87" width="1" height="12" fill="#32cd32"/>
<rect x="108" y="100" width="1" height="47" fill="#32cd32"/>
<rect x="107" y="100" width="3" height="40" fill="#1fc81f"/>
<rect x="108" y="101" width="1" height="38" fill="#32cd32"/>
<rect x="112" y="138" width="1" height="25" fill="#32cd32"/>
<rect x="111" y="139" width="3" height="17" fill="#1fc81f"/>
<rect x="112" y="140" width="1" height="15" fill="#32cd32"/>
<rect x="116" y="152" width="1" height="31" fill="#32cd32"/>
<rect x="115" y="154" width="3" height="12" fill="#1fc81f"/>
<rect x="116" y="155" width="1" height="10" fill="#32cd32"/>
<rect x="120" y="161" width="1" height="8" fill="#32cd32"/>
<rect x="119" y="164" width="3" height="5" fill="#1fc81f"/>
<rect x="120" y="165" width="1" height="3" fill="#32cd32"/>
<rect x="124" y="158" width="1" height="25" fill="#32cd32"/>
<rect x="123" y="165" width="3" height="15" fill="#1fc81f"/>
<rect x="124" y="166" width="1" height="13" fill="#32cd32"/>
<rect x="128" y="160" width="1" height="26" fill="#ff0000"/>
<rect x="127" y="165" width="3" height="15" fill="#ff0000"/>
<rect x="128" y="166" width="1" height="13" fill="#ff4500"/>
<rect x="132" y="138" width="1" height="28" fill="#ff0000"/>
<rect x="131" y="152" width="3" height="14" fill="#ff0000"/>
<rect x="132" y="153" width="1" height="12" fill="#ff4500"/>
<rect x="136" y="141" width="1" height="36" fill="#32cd32"/>
<rect x="135" y="151" width="3" height="11" fill="#1fc81f"/>
<rect x="136" y="152" width="1" height="9" fill="#32cd32"/>
<rect x="140" y="145" width="1" height="26" fill="#ff0000"/>
<rect x="139" y="148" width="3" height="14" fill="#ff0000"/>
<rect x="140" y="149" width="1" height="12" fill="#ff4500"/>
<rect x="144" y="131" width="1" height="18" fill="#ff0000"/>
<rect x="143" y="135" width="3" height="14" fill="#ff0000"/>
<rect x="144" y="136" width="1" height="12" fill="#ff4500"/>
<rect x="148" y="123" width="1" height="17" fill="#32cd32"/>
<rect x="147" y="136" width="3" height="4" fill="#1fc81f"/>
<rect x="148" y="137" width="1" height="2" fill="#32cd32"/>
<rect x="152" y="133" width="1" height="25" fill="#ff0000"/>
<rect x="151" y="135" width="3" height="4" fill="#ff0000"/>
<rect x="152" y="136" width="1" height="2" fill="#ff4500"/>
<rect x="156" y="114" width="1" height="22" fill="#ff0000"/>
<rect x="155" y="120" width="3" height="15" fill="#ff0000"/>
<rect x="156" y="121" width="1" height="13" fill="#ff4500"/>
<rect x="160" y="100" width="1" height="69" fill="#32cd32"/>
<rect x="159" y="120" width="3" height="45" fill="#1fc81f"/>
<rect x="160" y="121" width="1" height="43" fill="#32cd32"/>
<rect x="164" y="135" width="1" height="42" fill="#ff0000"/>
<rect x="163" y="139" width="3" height="26" fill="#ff0000"/>
<rect x="164" y="140" width="1" height="24" fill="#ff4500"/>
<rect x="168" y="129" width="1" height="13" fill="#32cd32"/>
<rect x="167" y="138" width="3" height="2" fill="#1fc81f"/>
<rect x="172" y="100" width="1" height="40" fill="#ff0000"/>
<rect x="171" y="116" width="3" height="16" fill="#ff0000"/>
<rect x="172" y="117" width="1" height="14" fill="#ff4500"/>
<rect x="176" y="100" width="1" height="36" fill="#ff0000"/>
<rect x="175" y="115" width="3" height="2" fill="#ff0000"/>
<rect x="180" y="100" width="1" height="39" fill="#32cd32"/>
<rect x="179" y="115" width="3" height="19" fill="#1fc81f"/>
<rect x="180" y="116" width="1" height="17" fill="#32cd32"/>
<rect x="184" y="120" width="1" height="39" fill="#32cd32"/>
<rect x="183" y="134" width="3" height="17" fill="#1fc81f"/>
<rect x="184" y="135" width="1" height="15" fill="#32cd32"/>
<rect x="188" y="146" width="1" height="23" fill="#32cd32"/>
<rect x="187" y="150" width="3" height="13" fill="#1fc81f"/>
<rect x="188" y="151" width="1" height="11" fill="#32cd32"/>
<rect x="192" y="162" width="1" height="16" fill="#32cd32"/>
<rect x="191" y="162" width="3" height="14" fill="#1fc81f"/>
<rect x="192" y="163" width="1" height="12" fill="#32cd32"/>
<rect x="196" y="155" width="1" height="19" fill="#32cd32"/>
<rect x="195" y="160" width="3" height="8" fill="#1fc81f"/>
<rect x="196" y="161" width="1" height="6" fill="#32cd32"/>
<rect x="200" y="161" width="1" height="22" fill="#32cd32"/>
<rect x="199" y="168" width="3" height="9" fill="#1fc81f"/>
<rect x="200" y="169" width="1" height="7" fill="#32cd32"/>
<rect x="204" y="164" width="1" height="41" fill="#32cd32"/>
<rect x="203" y="176" width="3" height="26" fill="#1fc81f"/>
<rect x="204" y="177" width="1" height="24" fill="#32cd32"/>
<rect x="208" y="188" width="1" height="19" fill="#ff0000"/>
<rect x="207" y="199" width="3" height="4" fill="#ff0000"/>
<rect x="208" y="200" width="1" height="2" fill="#ff4500"/>
<rect x="212" y="190" width="1" height="26" fill="#ff0000"/>
<rect x="211" y="194" width="3" height="5" fill="#ff0000"/>
<rect x="212" y="195" width="1" height="3" fill="#ff4500"/>
<rect x="216" y="187" width="1" height="8" fill="#ff0000"/>
<rect x="215" y="190" width="3" height="5" fill="#ff0000"/>
<rect x="216" y="191" width="1" height="3" fill="#ff4500"/>
<rect x="220" y="179" width="1" height="24" fill="#ff0000"/>
<rect x="219" y="185" width="3" height="10" fill="#ff0000"/>
<rect x="220" y="186" width="1" height="8" fill="#ff4500"/>
<rect x="224" y="165" width="1" height="23" fill="#ff0000"/>
<rect x="223" y="170" width="3" height="16" fill="#ff0000"/>
<rect x="224" y="171" width="1" height="14" fill="#ff4500"/>
<rect x="228" y="164" width="1" height="26" fill="#ff0000"/>
<rect x="227" y="166" width="3" height="4" fill="#ff0000"/>
<rect x="228" y="167" width="1" height="2" fill="#ff4500"/>
<rect x="232" y="160" width="1" height="35" fill="#32cd32"/>
<rect x="231" y="167" width="3" height="16" fill="#1fc81f"/>
<rect x="232" y="168" width="1" height="14" fill="#32cd32"/>
<rect x="236" y="161" width="1" height="26" fill="#ff0000"/>
<rect x="235" y="164" width="3" height="19" fill="#ff0000"/>
<rect x="236" y="165" width="1" height="17" fill="#ff4500"/>
<rect x="240" y="165" width="1" height="5" fill="#32cd32"/>
<rect x="239" y="165" width="3" height="4" fill="#1fc81f"/>
<rect x="240" y="166" width="1" height="2" fill="#32cd32"/>
<rect x="244" y="147" width="1" height="26" fill="#ff0000"/>
<rect x="243" y="160" width="3" height="10" fill="#ff0000"/>
<rect x="244" y="161" width="1" height="8" fill="#ff4500"/>
<rect x="248" y="153" width="1" height="11" fill="#ff0000"/>
<rect x="247" y="158" width="3" height="2" fill="#ff0000"/>
<rect x="252" y="157" width="1" height="29" fill="#32cd32"/>
<rect x="251" y="157" width="3" height="11" fill="#1fc81f"/>
<rect x="252" y="158" width="1" height="9" fill="#32cd32"/>
<rect x="256" y="119" width="1" height="52" fill="#ff0000"/>
<rect x="255" y="153" width="3" height="15" fill="#ff0000"/>
<rect x="256" y="154" width="1" height="13" fill="#ff4500"/>
<rect x="260" y="149" width="1" height="24" fill="#32cd32"/>
<rect x="259" y="153" width="3" height="13" fill="#1fc81f"/>
<rect x="260" y="154" width="1" height="11" fill="#32cd32"/>
<rect x="264" y="164" width="1" height="9" fill="#32cd32"/>
<rect x="263" y="164" width="3" height="6" fill="#1fc81f"/>
<rect x="264" y="165" width="1" height="4" fill="#32cd32"/>
<rect x="268" y="149" width="1" height="31" fill="#ff0000"/>
<rect x="267" y="151" width="3" height="22" fill="#ff0000"/>
<rect x="268" y="152" width="1" height="20" fill="#ff4500"/>
<rect x="272" y="132" width="1" height="25" fill="#ff0000"/>
<rect x="271" y="136" width="3" height="16" fill="#ff0000"/>
<rect x="272" y="137" width="1" height="14" fill="#ff4500"/>
<rect x="276" y="131" width="1" height="47" fill="#32cd32"/>
<rect x="275" y="136" width="3" height="42" fill="#1fc81f"/>
<rect x="276" y="137" width="1" height="40" fill="#32cd32"/>
<rect x="280" y="155" width="1" height="24" fill="#ff0000"/>
<rect x="279" y="172" width="3" height="5" fill="#ff0000"/>
<rect x="280" y="173" width="1" height="3" fill="#ff4500"/>
<rect x="284" y="156" width="1" height="25" fill="#ff0000"/>
<rect x="283" y="157" width="3" height="15" fill="#ff0000"/>
<rect x="284" y="158" width="1" height="13" fill="#ff4500"/>
<rect x="288" y="156" width="1" height="7" fill="#32cd32"/>
<rect x="287" y="157" width="3" height="4" fill="#1fc81f"/>
<rect x="288" y="158" width="1" height="2" fill="#32cd32"/>
<rect x="292" y="140" width="1" height="18" fill="#ff0000"/>
<rect x="291" y="149" width="3" height="7" fill="#ff0000"/>
<rect x="292" y="150" width="1" height="5" fill="#ff4500"/>
<rect x="296" y="142" width="1" height="46" fill="#32cd32"/>
<rect x="295" y="149" width="3" height="36" fill="#1fc81f"/>
<rect x="296" y="150" width="1" height="34" fill="#32cd32"/>
<rect x="300" y="143" width="1" height="44" fill="#ff0000"/>
<rect x="299" y="145" width="3" height="40" fill="#ff0000"/>
<rect x="300" y="146" width="1" height="38" fill="#ff4500"/>
<rect x="304" y="141" width="1" height="17" fill="#32cd32"/>
<rect x="303" y="145" width="3" height="8" fill="#1fc81f"/>
<rect x="304" y="146" width="1" height="6" fill="#32cd32"/>
<rect x="308" y="140" width="1" height="25" fill="#32cd32"/>
<rect x="307" y="152" width="3" height="9" fill="#1fc81f"/>
<rect x="308" y="153" width="1" height="7" fill="#32cd32"/>
<rect x="312" y="157" width="1" height="6" fill="#ff0000"/>
<rect x="311" y="157" width="3" height="4" fill="#ff0000"/>
<rect x="312" y="158" width="1" height="2" fill="#ff4500"/>
<rect x="316" y="143" width="1" height="24" fill="#ff0000"/>
<rect x="315" y="145" width="3" height="12" fill="#ff0000"/>
<rect x="316" y="146" width="1" height="10" fill="#ff4500"/>
<rect x="320" y="128" width="1" height="21" fill="#ff0000"/>
<rect x="319" y="142" width="3" height="4" fill="#ff0000"/>
<rect x="320" y="143" width="1" height="2" fill="#ff4500"/>
<rect x="324" y="123" width="1" height="32" fill="#ff0000"/>
<rect x="323" y="126" width="3" height="17" fill="#ff0000"/>
<rect x="324" y="127" width="1" height="15" fill="#ff4500"/>
<rect x="328" y="115" width="1" height="29" fill="#32cd32"/>
<rect x="327" y="125" width="3" height="19" fill="#1fc81f"/>
<rect x="328" y="126" width="1" height="17" fill="#32cd32"/>
<rect x="332" y="105" width="1" height="46" fill="#ff0000"/>
<rect x="331" y="114" width="3" height="29" fill="#ff0000"/>
<rect x="332" y="115" width="1" height="27" fill="#ff4500"/>
<rect x="336" y="112" width="1" height="5" fill="#32cd32"/>
<rect x="335" y="114" width="3" height="3" fill="#1fc81f"/>
<rect x="336" y="115" width="1" height="1" fill="#32cd32"/>
<rect x="340" y="111" width="1" height="11" fill="#ff0000"/>
<rect x="339" y="113" width="3" height="4" fill="#ff0000"/>
<rect x="340" y="114" width="1" height="2" fill="#ff4500"/>
<rect x="344" y="111" width="1" height="26" fill="#32cd32"/>
<rect x="343" y="113" width="3" height="4" fill="#1fc81f"/>
<rect x="344" y="114" width="1" height="2" fill="#32cd32"/>
<rect x="348" y="97" width="1" height="32" fill="#32cd32"/>
<rect x="347" y="116" width="3" height="5" fill="#1fc81f"/>
<rect x="348" y="117" width="1" height="3" fill="#32cd32"/>
<rect x="352" y="101" width="1" height="32" fill="#32cd32"/>
<rect x="351" y="120" width="3" height="11" fill="#1fc81f"/>
<rect x="352" y="121" width="1" height="9" fill="#32cd32"/>
<rect x="356" y="129" width="1" height="10" fill="#32cd32"/>
<rect x="355" y="130" width="3" height="3" fill="#1fc81f"/>
<rect x="356" y="131" width="1" height="1" fill="#32cd32"/>
<rect x="360" y="129" width="1" height="5" fill="#ff0000"/>
<rect x="359" y="131" width="3" height="3" fill="#ff0000"/>
<rect x="360" y="132" width="1" height="1" fill="#ff4500"/>
<rect x="364" y="129" width="1" height="14" fill="#32cd32"/>
<rect x="363" y="130" width="3" height="10" fill="#1fc81f"/>
<rect x="364" y="131" width="1" height="8" fill="#32cd32"/>
<rect x="368" y="136" width="1" height="34" fill="#32cd32"/>
<rect x="367" y="139" width="3" height="24" fill="#1fc81f"/>
<rect x="368" y="140" width="1" height="22" fill="#32cd32"/>
<rect x="372" y="157" width="1" height="48" fill="#32cd32"/>
<rect x="371" y="161" width="3" height="43" fill="#1fc81f"/>
<rect x="372" y="162" width="1" height="41" fill="#32cd32"/>
<rect x="376" y="202" width="1" height="24" fill="#32cd32"/>
<rect x="375" y="203" width="3" height="10" fill="#1fc81f"/>
<rect x="376" y="204" width="1" height="8" fill="#32cd32"/>
<rect x="380" y="182" width="1" height="33" fill="#ff0000"/>
<rect x="379" y="192" width="3" height="22" fill="#ff0000"/>
<rect x="380" y="193" width="1" height="20" fill="#ff4500"/>
<rect x="384" y="192" width="1" height="5" fill="#32cd32"/>
<rect x="383" y="192" width="3" height="4" fill="#1fc81f"/>
<rect x="384" y="193" width="1" height="2" fill="#32cd32"/>
<rect x="388" y="182" width="1" height="14" fill="#ff0000"/>
<rect x="387" y="188" width="3" height="6" fill="#ff0000"/>
<rect x="388" y="189" width="1" height="4" fill="#ff4500"/>
<rect x="392" y="177" width="1" height="24" fill="#32cd32"/>
<rect x="391" y="188" width="3" height="8" fill="#1fc81f"/>
<rect x="392" y="189" width="1" height="6" fill="#32cd32"/>
<rect x="396" y="182" width="1" height="16" fill="#32cd32"/>
<rect x="395" y="194" width="3" height="2" fill="#1fc81f"/>
<rect x="400" y="186" width="1" height="36" fill="#32cd32"/>
<rect x="399" y="196" width="3" height="21" fill="#1fc81f"/>
<rect x="400" y="197" width="1" height="19" fill="#32cd32"/>
<rect x="404" y="204" width="1" height="24" fill="#ff0000"/>
<rect x="403" y="207" width="3" height="10" fill="#ff0000"/>
<rect x="404" y="208" width="1" height="8" fill="#ff4500"/>
<rect x="408" y="205" width="1" height="5" fill="#32cd32"/>
<rect x="407" y="208" width="3" height="2" fill="#1fc81f"/>
<rect x="412" y="217" width="1" height="24" fill="#32cd32"/>
<rect x="411" y="220" width="3" height="2" fill="#1fc81f"/>
<rect x="416" y="190" width="1" height="40" fill="#ff0000"/>
<rect x="415" y="217" width="3" height="5" fill="#ff0000"/>
<rect x="416" y="218" width="1" height="3" fill="#ff4500"/>
<rect x="420" y="202" width="1" height="20" fill="#32cd32"/>
<rect x="419" y="216" width="3" height="1" fill="#1fc81f"/>
<rect x="424" y="214" width="1" height="26" fill="#32cd32"/>
<rect x="423" y="216" width="3" height="17" fill="#1fc81f"/>
<rect x="424" y="217" width="1" height="15" fill="#32cd32"/>
<rect x="428" y="207" width="1" height="27" fill="#ff0000"/>
<rect x="427" y="220" width="3" height="13" fill="#ff0000"/>
<rect x="428" y="221" width="1" height="11" fill="#ff4500"/>
<rect x="432" y="218" width="1" height="4" fill="#ff0000"/>
<rect x="431" y="219" width="3" height="2" fill="#ff0000"/>
<rect x="436" y="222" width="1" height="30" fill="#32cd32"/>
<rect x="435" y="224" width="3" height="25" fill="#1fc81f"/>
<rect x="436" y="225" width="1" height="23" fill="#32cd32"/>
<rect x="440" y="242" width="1" height="15" fill="#32cd32"/>
<rect x="439" y="249" width="3" height="1" fill="#1fc81f"/>
<rect x="444" y="247" width="1" height="22" fill="#32cd32"/>
<rect x="443" y="250" width="3" height="11" fill="#1fc81f"/>
<rect x="444" y="251" width="1" height="9" fill="#32cd32"/>
<rect x="448" y="257" width="1" height="25" fill="#32cd32"/>
<rect x="447" y="259" width="3" height="15" fill="#1fc81f"/>
<rect x="448" y="260" width="1" height="13" fill="#32cd32"/>
<rect x="452" y="273" width="1" height="21" fill="#32cd32"/>
<rect x="451" y="274" width="3" height="20" fill="#1fc81f"/>
<rect x="452" y="275" width="1" height="18" fill="#32cd32"/>
<rect x="456" y="291" width="1" height="7" fill="#32cd32"/>
<rect x="455" y="292" width="3" height="5" fill="#1fc81f"/>
<rect x="456" y="293" width="1" height="3" fill="#32cd32"/>
<rect x="460" y="257" width="1" height="27" fill="#ff0000"/>
<rect x="459" y="269" width="3" height="14" fill="#ff0000"/>
<rect x="460" y="270" width="1" height="12" fill="#ff4500"/>
<rect x="464" y="260" width="1" height="38" fill="#32cd32"/>
<rect x="463" y="269" width="3" height="23" fill="#1fc81f"/>
<rect x="464" y="270" width="1" height="21" fill="#32cd32"/>
<rect x="468" y="279" width="1" height="16" fill="#ff0000"/>
<rect x="467" y="289" width="3" height="3" fill="#ff0000"/>
<rect x="468" y="290" width="1" height="1" fill="#ff4500"/>
<rect x="472" y="278" width="1" height="20" fill="#ff0000"/>
<rect x="471" y="280" width="3" height="10" fill="#ff0000"/>
<rect x="472" y="281" width="1" height="8" fill="#ff4500"/>
<rect x="476" y="264" width="1" height="25" fill="#ff0000"/>
<rect x="475" y="269" width="3" height="11" fill="#ff0000"/>
<rect x="476" y="270" width="1" height="9" fill="#ff4500"/>
<rect x="480" y="258" width="1" height="12" fill="#ff0000"/>
<rect x="479" y="258" width="3" height="12" fill="#ff0000"/>
<rect x="480" y="259" width="1" height="10" fill="#ff4500"/>
<rect x="484" y="254" width="1" height="15" fill="#32cd32"/>
<rect x="483" y="259" width="3" height="10" fill="#1fc81f"/>
<rect x="484" y="260" width="1" height="8" fill="#32cd32"/>
<rect x="488" y="256" width="1" height="14" fill="#ff0000"/>
<rect x="487" y="259" width="3" height="10" fill="#ff0000"/>
<rect x="488" y="260" width="1" height="8" fill="#ff4500"/>
<rect x="492" y="258" width="1" height="16" fill="#32cd32"/>
<rect x="491" y="259" width="3" height="13" fill="#1fc81f"/>
<rect x="492" y="260" width="1" height="11" fill="#32cd32"/>
<rect x="496" y="255" width="1" height="23" fill="#32cd32"/>
<rect x="495" y="271" width="3" height="1" fill="#1fc81f"/>
<rect x="500" y="251" width="1" height="25" fill="#ff0000"/>
<rect x="499" y="259" width="3" height="13" fill="#ff0000"/>
<rect x="500" y="260" width="1" height="11" fill="#ff4500"/>
<rect x="504" y="251" width="1" height="10" fill="#ff0000"/>
<rect x="503" y="254" width="3" height="7" fill="#ff0000"/>
<rect x="504" y="255" width="1" height="5" fill="#ff4500"/>
<rect x="508" y="238" width="1" height="24" fill="#ff0000"/>
<rect x="507" y="245" width="3" height="13" fill="#ff0000"/>
<rect x="508" y="246" width="1" height="11" fill="#ff4500"/>
<rect x="512" y="222" width="1" height="26" fill="#ff0000"/>
<rect x="511" y="226" width="3" height="20" fill="#ff0000"/>
<rect x="512" y="227" width="1" height="18" fill="#ff4500"/>
<rect x="516" y="214" width="1" height="20" fill="#32cd32"/>
<rect x="515" y="226" width="3" height="8" fill="#1fc81f"/>
<rect x="516" y="227" width="1" height="6" fill="#32cd32"/>
<rect x="520" y="221" width="1" height="20" fill="#ff0000"/>
<rect x="519" y="227" width="3" height="8" fill="#ff0000"/>
<rect x="520" y="228" width="1" height="6" fill="#ff4500"/>
<rect x="524" y="205" width="1" height="35" fill="#ff0000"/>
<rect x="523" y="217" width="3" height="11" fill="#ff0000"/>
<rect x="524" y="218" width="1" height="9" fill="#ff4500"/>
<rect x="528" y="213" width="1" height="6" fill="#ff0000"/>
<rect x="527" y="216" width="3" height="2" fill="#ff0000"/>
<rect x="532" y="218" width="1" height="25" fill="#32cd32"/>
<rect x="531" y="221" width="3" height="19" fill="#1fc81f"/>
<rect x="532" y="222" width="1" height="17" fill="#32cd32"/>
<rect x="536" y="238" width="1" height="12" fill="#32cd32"/>
<rect x="535" y="239" width="3" height="6" fill="#1fc81f"/>
<rect x="536" y="240" width="1" height="4" fill="#32cd32"/>
<rect x="540" y="238" width="1" height="15" fill="#32cd32"/>
<rect x="539" y="244" width="3" height="9" fill="#1fc81f"/>
<rect x="540" y="245" width="1" height="7" fill="#32cd32"/>
<rect x="544" y="251" width="1" height="25" fill="#32cd32"/>
<rect x="543" y="252" width="3" height="20" fill="#1fc81f"/>
<rect x="544" y="253" width="1" height="18" fill="#32cd32"/>
<rect x="548" y="266" width="1" height="28" fill="#32cd32"/>
<rect x="547" y="271" width="3" height="23" fill="#1fc81f"/>
<rect x="548" y="272" width="1" height="21" fill="#32cd32"/>
<rect x="552" y="293" width="1" height="8" fill="#32cd32"/>
<rect x="551" y="293" width="3" height="5" fill="#1fc81f"/>
<rect x="552" y="294" width="1" height="3" fill="#32cd32"/>
<rect x="556" y="286" width="1" height="21" fill="#32cd32"/>
<rect x="555" y="292" width="3" height="10" fill="#1fc81f"/>
<rect x="556" y="293" width="1" height="8" fill="#32cd32"/>
<rect x="560" y="289" width="1" height="29" fill="#ff0000"/>
<rect x="559" y="294" width="3" height="8" fill="#ff0000"/>
<rect x="560" y="295" width="1" height="6" fill="#ff4500"/>
<rect x="564" y="285" width="1" height="19" fill="#32cd32"/>
<rect x="563" y="295" width="3" height="1" fill="#1fc81f"/>
<rect x="568" y="256" width="1" height="40" fill="#ff0000"/>
<rect x="567" y="266" width="3" height="30" fill="#ff0000"/>
<rect x="568" y="267" width="1" height="28" fill="#ff4500"/>
<rect x="572" y="255" width="1" height="21" fill="#ff0000"/>
<rect x="571" y="265" width="3" height="3" fill="#ff0000"/>
<rect x="572" y="266" width="1" height="1" fill="#ff4500"/>
<rect x="576" y="257" width="1" height="8" fill="#ff0000"/>
<rect x="575" y="262" width="3" height="3" fill="#ff0000"/>
<rect x="576" y="263" width="1" height="1" fill="#ff4500"/>
<rect x="580" y="236" width="1" height="22" fill="#ff0000"/>
<rect x="579" y="240" width="3" height="18" fill="#ff0000"/>
<rect x="580" y="241" width="1" height="16" fill="#ff4500"/>
<rect x="584" y="233" width="1" height="12" fill="#ff0000"/>
<rect x="583" y="233" width="3" height="7" fill="#ff0000"/>
<rect x="584" y="234" width="1" height="5" fill="#ff4500"/>
<rect x="588" y="221" width="1" height="32" fill="#ff0000"/>
<rect x="587" y="225" width="3" height="9" fill="#ff0000"/>
<rect x="588" y="226" width="1" height="7" fill="#ff4500"/>
<rect x="592" y="214" width="1" height="15" fill="#ff0000"/>
<rect x="591" y="219" width="3" height="6" fill="#ff0000"/>
<rect x="592" y="220" width="1" height="4" fill="#ff4500"/>
<rect x="596" y="207" width="1" height="13" fill="#ff0000"/>
<rect x="595" y="213" width="3" height="6" fill="#ff0000"/>
<rect x="596" y="214" width="1" height="4" fill="#ff4500"/>
<rect x="600" y="206" width="1" height="8" fill="#ff0000"/>
<rect x="599" y="206" width="3" height="8" fill="#ff0000"/>
<rect x="600" y="207" width="1" height="6" fill="#ff4500"/>
<rect x="604" y="200" width="1" height="42" fill="#32cd32"/>
<rect x="603" y="200" width="3" height="41" fill="#1fc81f"/>
<rect x="604" y="201" width="1" height="39" fill="#32cd32"/>
<rect x="608" y="220" width="1" height="25" fill="#ff0000"/>
<rect x="607" y="223" width="3" height="18" fill="#ff0000"/>
<rect x="608" y="224" width="1" height="16" fill="#ff4500"/>
<rect x="612" y="195" width="1" height="32" fill="#ff0000"/>
<rect x="611" y="199" width="3" height="25" fill="#ff0000"/>
<rect x="612" y="200" width="1" height="23" fill="#ff4500"/>
<rect x="616" y="190" width="1" height="20" fill="#32cd32"/>
<rect x="615" y="199" width="3" height="9" fill="#1fc81f"/>
<rect x="616" y="200" width="1" height="7" fill="#32cd32"/>
<rect x="620" y="201" width="1" height="43" fill="#32cd32"/>
<rect x="619" y="207" width="3" height="31" fill="#1fc81f"/>
<rect x="620" y="208" width="1" height="29" fill="#32cd32"/>
<rect x="624" y="230" width="1" height="8" fill="#ff0000"/>
<rect x="623" y="230" width="3" height="8" fill="#ff0000"/>
<rect x="624" y="231" width="1" height="6" fill="#ff4500"/>
<rect x="628" y="221" width="1" height="17" fill="#32cd32"/>
<rect x="627" y="229" width="3" height="9" fill="#1fc81f"/>
<rect x="628" y="230" width="1" height="7" fill="#32cd32"/>
<rect x="632" y="236" width="1" height="30" fill="#32cd32"/>
<rect x="631" y="237" width="3" height="25" fill="#1fc81f"/>
<rect x="632" y="238" width="1" height="23" fill="#32cd32"/>
<rect x="636" y="237" width="1" height="35" fill="#ff0000"/>
<rect x="635" y="240" width="3" height="22" fill="#ff0000"/>
<rect x="636" y="241" width="1" height="20" fill="#ff4500"/>
<rect x="640" y="225" width="1" height="21" fill="#ff0000"/>
<rect x="639" y="229" width="3" height="12" fill="#ff0000"/>
<rect x="640" y="230" width="1" height="10" fill="#ff4500"/>
<rect x="644" y="213" width="1" height="17" fill="#ff0000"/>
<rect x="643" y="214" width="3" height="15" fill="#ff0000"/>
<rect x="644" y="215" width="1" height="13" fill="#ff4500"/>
<rect x="648" y="203" width="1" height="11" fill="#ff0000"/>
<rect x="647" y="204" width="3" height="10" fill="#ff0000"/>
<rect x="648" y="205" width="1" height="8" fill="#ff4500"/>
<rect x="652" y="196" width="1" height="16" fill="#ff0000"/>
<rect x="651" y="196" width="3" height="11" fill="#ff0000"/>
<rect x="652" y="197" width="1" height="9" fill="#ff4500"/>
<rect x="656" y="192" width="1" height="16" fill="#32cd32"/>
<rect x="655" y="196" width="3" height="11" fill="#1fc81f"/>
<rect x="656" y="197" width="1" height="9" fill="#32cd32"/>
<rect x="660" y="203" width="1" height="18" fill="#ff0000"/>
<rect x="659" y="206" width="3" height="2" fill="#ff0000"/>
<rect x="664" y="192" width="1" height="28" fill="#ff0000"/>
<rect x="663" y="192" width="3" height="14" fill="#ff0000"/>
<rect x="664" y="193" width="1" height="12" fill="#ff4500"/>
<rect x="668" y="170" width="1" height="27" fill="#32cd32"/>
<rect x="667" y="193" width="3" height="1" fill="#1fc81f"/>
<rect x="672" y="186" width="1" height="11" fill="#ff0000"/>
<rect x="671" y="193" width="3" height="1" fill="#ff0000"/>
<rect x="676" y="184" width="1" height="17" fill="#ff0000"/>
<rect x="675" y="194" width="3" height="1" fill="#ff0000"/>
<rect x="680" y="192" width="1" height="29" fill="#32cd32"/>
<rect x="679" y="193" width="3" height="27" fill="#1fc81f"/>
<rect x="680" y="194" width="1" height="25" fill="#32cd32"/>
<rect x="684" y="213" width="1" height="22" fill="#32cd32"/>
<rect x="683" y="218" width="3" height="14" fill="#1fc81f"/>
<rect x="684" y="219" width="1" height="12" fill="#32cd32"/>
<rect x="688" y="227" width="1" height="21" fill="#32cd32"/>
<rect x="687" y="231" width="3" height="15" fill="#1fc81f"/>
<rect x="688" y="232" width="1" height="13" fill="#32cd32"/>
<rect x="692" y="244" width="1" height="32" fill="#32cd32"/>
<rect x="691" y="244" width="3" height="29" fill="#1fc81f"/>
<rect x="692" y="245" width="1" height="27" fill="#32cd32"/>
<rect x="696" y="271" width="1" height="5" fill="#32cd32"/>
<rect x="695" y="273" width="3" height="1" fill="#1fc81f"/>
<rect x="700" y="267" width="1" height="13" fill="#32cd32"/>
<rect x="699" y="270" width="3" height="3" fill="#1fc81f"/>
<rect x="700" y="271" width="1" height="1" fill="#32cd32"/>
<rect x="704" y="273" width="1" height="23" fill="#32cd32"/>
<rect x="703" y="273" width="3" height="22" fill="#1fc81f"/>
<rect x="704" y="274" width="1" height="20" fill="#32cd32"/>
<rect x="708" y="277" width="1" height="23" fill="#ff0000"/>
<rect x="707" y="284" width="3" height="10" fill="#ff0000"/>
<rect x="708" y="285" width="1" height="8" fill="#ff4500"/>
<rect x="712" y="282" width="1" height="38" fill="#32cd32"/>
<rect x="711" y="283" width="3" height="20" fill="#1fc81f"/>
<rect x="712" y="284" width="1" height="18" fill="#32cd32"/>
<rect x="716" y="296" width="1" height="62" fill="#32cd32"/>
<rect x="715" y="302" width="3" height="32" fill="#1fc81f"/>
<rect x="716" y="303" width="1" height="30" fill="#32cd32"/>
<rect x="720" y="332" width="1" height="9" fill="#32cd32"/>
<rect x="719" y="332" width="3" height="7" fill="#1fc81f"/>
<rect x="720" y="333" width="1" height="5" fill="#32cd32"/>
<rect x="724" y="334" width="1" height="33" fill="#32cd32"/>
<rect x="723" y="341" width="3" height="8" fill="#1fc81f"/>
<rect x="724" y="342" width="1" height="6" fill="#32cd32"/>
<rect x="728" y="344" width="1" height="22" fill="#32cd32"/>
<rect x="727" y="348" width="3" height="7" fill="#1fc81f"/>
<rect x="728" y="349" width="1" height="5" fill="#32cd32"/>
<rect x="732" y="352" width="1" height="56" fill="#32cd32"/>
<rect x="731" y="354" width="3" height="10" fill="#1fc81f"/>
<rect x="732" y="355" width="1" height="8" fill="#32cd32"/>
<rect x="736" y="323" width="1" height="45" fill="#ff0000"/>
<rect x="735" y="329" width="3" height="35" fill="#ff0000"/>
<rect x="736" y="330" width="1" height="33" fill="#ff4500"/>
<rect x="740" y="325" width="1" height="19" fill="#32cd32"/>
<rect x="739" y="329" width="3" height="10" fill="#1fc81f"/>
<rect x="740" y="330" width="1" height="8" fill="#32cd32"/>
<rect x="744" y="336" width="1" height="8" fill="#32cd32"/>
<rect x="743" y="338" width="3" height="4" fill="#1fc81f"/>
<rect x="744" y="339" width="1" height="2" fill="#32cd32"/>
<rect x="748" y="338" width="1" height="30" fill="#32cd32"/>
<rect x="747" y="346" width="3" height="16" fill="#1fc81f"/>
<rect x="748" y="347" width="1" height="14" fill="#32cd32"/>
<rect x="752" y="326" width="1" height="42" fill="#ff0000"/>
<rect x="751" y="338" width="3" height="24" fill="#ff0000"/>
<rect x="752" y="339" width="1" height="22" fill="#ff4500"/>
<rect x="756" y="332" width="1" height="43" fill="#32cd32"/>
<rect x="755" y="337" width="3" height="34" fill="#1fc81f"/>
<rect x="756" y="338" width="1" height="32" fill="#32cd32"/>
<rect x="760" y="341" width="1" height="32" fill="#ff0000"/>
<rect x="759" y="346" width="3" height="25" fill="#ff0000"/>
<rect x="760" y="347" width="1" height="23" fill="#ff4500"/>
<rect x="764" y="338" width="1" height="15" fill="#32cd32"/>
<rect x="763" y="346" width="3" height="2" fill="#1fc81f"/>
<rect x="768" y="342" width="1" height="5" fill="#ff0000"/>
<rect x="767" y="345" width="3" height="2" fill="#ff0000"/>
<rect x="772" y="342" width="1" height="14" fill="#32cd32"/>
<rect x="771" y="345" width="3" height="9" fill="#1fc81f"/>
<rect x="772" y="346" width="1" height="7" fill="#32cd32"/>
<rect x="776" y="340" width="1" height="22" fill="#ff0000"/>
<rect x="775" y="350" width="3" height="4" fill="#ff0000"/>
<rect x="776" y="351" width="1" height="2" fill="#ff4500"/>
<rect x="780" y="336" width="1" height="17" fill="#ff0000"/>
<rect x="779" y="341" width="3" height="10" fill="#ff0000"/>
<rect x="780" y="342" width="1" height="8" fill="#ff4500"/>
<rect x="784" y="338" width="1" height="28" fill="#32cd32"/>
<rect x="783" y="342" width="3" height="16" fill="#1fc81f"/>
<rect x="784" y="343" width="1" height="14" fill="#32cd32"/>
<rect x="788" y="350" width="1" height="24" fill="#32cd32"/>
<rect x="787" y="357" width="3" height="11" fill="#1fc81f"/>
<rect x="788" y="358" width="1" height="9" fill="#32cd32"/>
<rect x="792" y="362" width="1" height="6" fill="#ff0000"/>
<rect x="791" y="364" width="3" height="4" fill="#ff0000"/>
<rect x="792" y="365" width="1" height="2" fill="#ff4500"/>
<rect x="796" y="343" width="1" height="55" fill="#ff0000"/>
<rect x="795" y="347" width="3" height="50" fill="#ff0000"/>
<rect x="796" y="348" width="1" height="48" fill="#ff4500"/>
<rect x="800" y="344" width="1" height="24" fill="#32cd32"/>
<rect x="799" y="347" width="3" height="14" fill="#1fc81f"/>
<rect x="800" y="348" width="1" height="12" fill="#32cd32"/>
<rect x="804" y="358" width="1" height="17" fill="#32cd32"/>
<rect x="803" y="360" width="3" height="8" fill="#1fc81f"/>
<rect x="804" y="361" width="1" height="6" fill="#32cd32"/>
<rect x="808" y="363" width="1" height="23" fill="#32cd32"/>
<rect x="807" y="368" width="3" height="8" fill="#1fc81f"/>
<rect x="808" y="369" width="1" height="6" fill="#32cd32"/>
<rect x="812" y="371" width="1" height="21" fill="#32cd32"/>
<rect x="811" y="375" width="3" height="3" fill="#1fc81f"/>
<rect x="812" y="376" width="1" height="1" fill="#32cd32"/>
<rect x="816" y="376" width="1" height="9" fill="#32cd32"/>
<rect x="815" y="377" width="3" height="2" fill="#1fc81f"/>
<rect x="820" y="374" width="1" height="16" fill="#32cd32"/>
<rect x="819" y="377" width="3" height="9" fill="#1fc81f"/>
<rect x="820" y="378" width="1" height="7" fill="#32cd32"/>
<rect x="824" y="361" width="1" height="42" fill="#ff0000"/>
<rect x="823" y="361" width="3" height="25" fill="#ff0000"/>
<rect x="824" y="362" width="1" height="23" fill="#ff4500"/>
<rect x="828" y="336" width="1" height="28" fill="#ff0000"/>
<rect x="827" y="338" width="3" height="24" fill="#ff0000"/>
<rect x="828" y="339" width="1" height="22" fill="#ff4500"/>
<rect x="832" y="318" width="1" height="22" fill="#ff0000"/>
<rect x="831" y="324" width="3" height="15" fill="#ff0000"/>
<rect x="832" y="325" width="1" height="13" fill="#ff4500"/>
<rect x="836" y="299" width="1" height="33" fill="#ff0000"/>
<rect x="835" y="302" width="3" height="22" fill="#ff0000"/>
<rect x="836" y="303" width="1" height="20" fill="#ff4500"/>
<rect x="840" y="301" width="1" height="9" fill="#32cd32"/>
<rect x="839" y="302" width="3" height="6" fill="#1fc81f"/>
<rect x="840" y="303" width="1" height="4" fill="#32cd32"/>
<rect x="844" y="291" width="1" height="23" fill="#ff0000"/>
<rect x="843" y="292" width="3" height="16" fill="#ff0000"/>
<rect x="844" y="293" width="1" height="14" fill="#ff4500"/>
<rect x="848" y="291" width="1" height="9" fill="#32cd32"/>
<rect x="847" y="292" width="3" height="4" fill="#1fc81f"/>
<rect x="848" y="293" width="1" height="2" fill="#32cd32"/>
<rect x="852" y="286" width="1" height="22" fill="#32cd32"/>
<rect x="851" y="295" width="3" height="7" fill="#1fc81f"/>
<rect x="852" y="296" width="1" height="5" fill="#32cd32"/>
<rect x="856" y="280" width="1" height="24" fill="#ff0000"/>
<rect x="855" y="294" width="3" height="8" fill="#ff0000"/>
<rect x="856" y="295" width="1" height="6" fill="#ff4500"/>
<rect x="860" y="282" width="1" height="20" fill="#ff0000"/>
<rect x="859" y="285" width="3" height="9" fill="#ff0000"/>
<rect x="860" y="286" width="1" height="7" fill="#ff4500"/>
<rect x="864" y="285" width="1" height="5" fill="#32cd32"/>
<rect x="863" y="285" width="3" height="3" fill="#1fc81f"/>
<rect x="864" y="286" width="1" height="1" fill="#32cd32"/>
<rect x="868" y="286" width="1" height="18" fill="#32cd32"/>
<rect x="867" y="288" width="3" height="10" fill="#1fc81f"/>
<rect x="868" y="289" width="1" height="8" fill="#32cd32"/>
<rect x="872" y="294" width="1" height="24" fill="#32cd32"/>
<rect x="871" y="298" width="3" height="5" fill="#1fc81f"/>
<rect x="872" y="299" width="1" height="3" fill="#32cd32"/>
<rect x="876" y="295" width="1" height="25" fill="#32cd32"/>
<rect x="875" y="302" width="3" height="9" fill="#1fc81f"/>
<rect x="876" y="303" width="1" height="7" fill="#32cd32"/>
<rect x="880" y="302" width="1" height="46" fill="#32cd32"/>
<rect x="879" y="310" width="3" height="30" fill="#1fc81f"/>
<rect x="880" y="311" width="1" height="28" fill="#32cd32"/>
<rect x="884" y="332" width="1" height="25" fill="#32cd32"/>
<rect x="883" y="339" width="3" height="16" fill="#1fc81f"/>
<rect x="884" y="340" width="1" height="14" fill="#32cd32"/>
<rect x="888" y="353" width="1" height="7" fill="#32cd32"/>
<rect x="887" y="354" width="3" height="4" fill="#1fc81f"/>
<rect x="888" y="355" width="1" height="2" fill="#32cd32"/>
<rect x="892" y="347" width="1" height="10" fill="#ff0000"/>
<rect x="891" y="353" width="3" height="2" fill="#ff0000"/>
<rect x="896" y="332" width="1" height="25" fill="#ff0000"/>
<rect x="895" y="341" width="3" height="13" fill="#ff0000"/>
<rect x="896" y="342" width="1" height="11" fill="#ff4500"/>
<rect x="900" y="333" width="1" height="40" fill="#32cd32"/>
<rect x="899" y="340" width="3" height="27" fill="#1fc81f"/>
<rect x="900" y="341" width="1" height="25" fill="#32cd32"/>
<rect x="904" y="347" width="1" height="22" fill="#ff0000"/>
<rect x="903" y="363" width="3" height="4" fill="#ff0000"/>
<rect x="904" y="364" width="1" height="2" fill="#ff4500"/>
<rect x="908" y="348" width="1" height="22" fill="#ff0000"/>
<rect x="907" y="358" width="3" height="6" fill="#ff0000"/>
<rect x="908" y="359" width="1" height="4" fill="#ff4500"/>
<rect x="912" y="357" width="1" height="6" fill="#32cd32"/>
<rect x="911" y="358" width="3" height="2" fill="#1fc81f"/>
<rect x="916" y="353" width="1" height="18" fill="#32cd32"/>
<rect x="915" y="360" width="3" height="9" fill="#1fc81f"/>
<rect x="916" y="361" width="1" height="7" fill="#32cd32"/>
<rect x="920" y="350" width="1" height="62" fill="#32cd32"/>
<rect x="919" y="368" width="3" height="26" fill="#1fc81f"/>
<rect x="920" y="369" width="1" height="24" fill="#32cd32"/>
<rect x="924" y="385" width="1" height="12" fill="#ff0000"/>
<rect x="923" y="387" width="3" height="7" fill="#ff0000"/>
<rect x="924" y="388" width="1" height="5" fill="#ff4500"/>
</g>
</g>
<rect x="4" y="25" width="225" height="85" fill="#ffffff"/>
<g shape-rendering="crispEdges" fill="#c0c0c0">
<rect x="3" y="446" width="3" height="22"/>
<rect x="7" y="446" width="3" height="18"/>
<rect x="11" y="446" width="3" height="12"/>
<rect x="15" y="446" width="3" height="6"/>
<rect x="19" y="445" width="3" height="1"/>
<rect x="23" y="441" width="3" height="5"/>
<rect x="27" y="438" width="3" height="8"/>
<rect x="31" y="437" width="3" height="9"/>
<rect x="35" y="436" width="3" height="10"/>
<rect x="39" y="436" width="3" height="10"/>
<rect x="43" y="437" width="3" height="9"/>
<rect x="47" y="437" width="3" height="9"/>
<rect x="51" y="438" width="3" height="8"/>
<rect x="55" y="440" width="3" height="6"/>
<rect x="59" y="441" width="3" height="5"/>
<rect x="63" y="444" width="3" height="2"/>
<rect x="67" y="443" width="3" height="3"/>
<rect x="71" y="442" width="3" height="4"/>
<rect x="75" y="442" width="3" height="4"/>
<rect x="79" y="442" width="3" height="4"/>
<rect x="83" y="441" width="3" height="5"/>
<rect x="87" y="440" width="3" height="6"/>
<rect x="91" y="439" width="3" height="7"/>
<rect x="95" y="437" width="3" height="9"/>
<rect x="99" y="436" width="3" height="10"/>
<rect x="103" y="436" width="3" height="10"/>
<rect x="107" y="438" width="3" height="8"/>
<rect x="111" y="440" width="3" height="6"/>
<rect x="115" y="445" width="3" height="1"/>
<rect x="119" y="446" width="3" height="5"/>
<rect x="123" y="446" width="3" height="9"/>
<rect x="127" y="446" width="3" height="12"/>
<rect x="131" y="446" width="3" height="13"/>
<rect x="135" y="446" width="3" height="14"/>
<rect x="139" y="446" width="3" height="14"/>
<rect x="143" y="446" width="3" height="12"/>
<rect x="147" y="446" width="3" height="11"/>
<rect x="151" y="446" width="3" height="8"/>
<rect x="155" y="446" width="3" height="6"/>
<rect x="159" y="446" width="3" height="7"/>
<rect x="163" y="446" width="3" height="7"/>
<rect x="167" y="446" width="3" height="6"/>
<rect x="171" y="446" width="3" height="4"/>
<rect x="175" y="446" width="3" height="2"/>
<rect x="179" y="446" width="3" height="1"/>
<rect x="183" y="446" width="3" height="2"/>
<rect x="187" y="446" width="3" height="4"/>
<rect x="191" y="446" width="3" height="8"/>
<rect x="195" y="446" width="3" height="11"/>
<rect x="199" y="446" width="3" height="12"/>
<rect x="203" y="446" width="3" height="16"/>
<rect x="207" y="446" width="3" height="18"/>
<rect x="211" y="446" width="3" height="21"/>
<rect x="215" y="446" width="3" height="21"/>
<rect x="219" y="446" width="3" height="21"/>
<rect x="223" y="446" width="3" height="18"/>
<rect x="227" y="446" width="3" height="17"/>
<rect x="231" y="446" width="3" height="15"/>
<rect x="235" y="446" width="3" height="14"/>
<rect x="239" y="446" width="3" height="12"/>
<rect x="243" y="446" width="3" height="11"/>
<rect x="247" y="446" width="3" height="8"/>
<rect x="251" y="446" width="3" height="8"/>
<rect x="255" y="446" width="3" height="6"/>
<rect x="259" y="446" width="3" height="5"/>
<rect x="263" y="446" width="3" height="4"/>
<rect x="267" y="446" width="3" height="4"/>
<rect x="271" y="446" width="3" height="1"/>
<rect x="275" y="446" width="3" height="2"/>
<rect x="279" y="446" width="3" height="3"/>
<rect x="283" y="446" width="3" height="2"/>
<rect x="287" y="446" width="3" height="1"/>
<rect x="291" y="446" width="3" height="1"/>
<rect x="295" y="446" width="3" height="1"/>
<rect x="299" y="446" width="3" height="1"/>
<rect x="303" y="445" width="3" height="1"/>
<rect x="307" y="445" width="3" height="1"/>
<rect x="311" y="445" width="3" height="1"/>
<rect x="315" y="444" width="3" height="2"/>
<rect x="319" y="443" width="3" height="3"/>
<rect x="323" y="440" width="3" height="6"/>
<rect x="327" y="440" width="3" height="6"/>
<rect x="331" y="437" width="3" height="9"/>
<rect x="335" y="435" width="3" height="11"/>
<rect x="339" y="433" width="3" height="13"/>
<rect x="343" y="432" width="3" height="14"/>
<rect x="347" y="432" width="3" height="14"/>
<rect x="351" y="433" width="3" height="13"/>
<rect x="355" y="434" width="3" height="12"/>
<rect x="359" y="435" width="3" height="11"/>
<rect x="363" y="436" width="3" height="10"/>
<rect x="367" y="440" width="3" height="6"/>
<rect x="371" y="446" width="3" height="2"/>
<rect x="375" y="446" width="3" height="8"/>
<rect x="379" y="446" width="3" height="12"/>
<rect x="383" y="446" width="3" height="14"/>
<rect x="387" y="446" width="3" height="15"/>
<rect x="391" y="446" width="3" height="16"/>
<rect x="395" y="446" width="3" height="17"/>
<rect x="399" y="446" width="3" height="19"/>
<rect x="403" y="446" width="3" height="21"/>
<rect x="407" y="446" width="3" height="22"/>
<rect x="411" y="446" width="3" height="23"/>
<rect x="415" y="446" width="3" height="24"/>
<rect x="419" y="446" width="3" height="24"/>
<rect x="423" y="446" width="3" height="25"/>
<rect x="427" y="446" width="3" height="25"/>
<rect x="431" y="446" width="3" height="23"/>
<rect x="435" y="446" width="3" height="26"/>
<rect x="439" y="446" width="3" height="28"/>
<rect x="443" y="446" width="3" height="30"/>
<rect x="447" y="446" width="3" height="32"/>
<rect x="451" y="446" width="3" height="36"/>
<rect x="455" y="446" width="3" height="39"/>
<rect x="459" y="446" width="3" height="38"/>
<rect x="463" y="446" width="3" height="39"/>
<rect x="467" y="446" width="3" height="39"/>
<rect x="471" y="446" width="3" height="37"/>
<rect x="475" y="446" width="3" height="34"/>
<rect x="479" y="446" width="3" height="32"/>
<rect x="483" y="446" width="3" height="30"/>
<rect x="487" y="446" width="3" height="27"/>
<rect x="491" y="446" width="3" height="25"/>
<rect x="495" y="446" width="3" height="23"/>
<rect x="499" y="446" width="3" height="22"/>
<rect x="503" y="446" width="3" height="18"/>
<rect x="507" y="446" width="3" height="16"/>
<rect x="511" y="446" width="3" height="11"/>
<rect x="515" y="446" width="3" height="8"/>
<rect x="519" y="446" width="3" height="5"/>
<rect x="523" y="446" width="3" height="2"/>
<rect x="527" y="444" width="3" height="2"/>
<rect x="531" y="444" width="3" height="2"/>
<rect x="535" y="445" width="3" height="1"/>
<rect x="539" y="446" width="3" height="1"/>
<rect x="543" y="446" width="3" height="3"/>
<rect x="547" y="446" width="3" height="8"/>
<rect x="551" y="446" width="3" height="12"/>
<rect x="555" y="446" width="3" height="16"/>
<rect x="559" y="446" width="3" height="17"/>
<rect x="563" y="446" width="3" height="18"/>
<rect x="567" y="446" width="3" height="16"/>
<rect x="571" y="446" width="3" height="14"/>
<rect x="575" y="446" width="3" height="13"/>
<rect x="579" y="446" width="3" height="8"/>
<rect x="583" y="446" width="3" height="5"/>
<rect x="587" y="446" width="3" height="1"/>
<rect x="591" y="442" width="3" height="4"/>
<rect x="595" y="439" width="3" height="7"/>
<rect x="599" y="436" width="3" height="10"/>
<rect x="603" y="437" width="3" height="9"/>
<rect x="607" y="436" width="3" height="10"/>
<rect x="611" y="433" width="3" height="13"/>
<rect x="615" y="432" width="3" height="14"/>
<rect x="619" y="434" width="3" height="12"/>
<rect x="623" y="435" width="3" height="11"/>
<rect x="627" y="437" width="3" height="9"/>
<rect x="631" y="440" width="3" height="6"/>
<rect x="635" y="441" width="3" height="5"/>
<rect x="639" y="441" width="3" height="5"/>
<rect x="643" y="439" width="3" height="7"/>
<rect x="647" y="437" width="3" height="9"/>
<rect x="651" y="435" width="3" height="11"/>
<rect x="655" y="434" width="3" height="12"/>
<rect x="659" y="434" width="3" height="12"/>
<rect x="663" y="432" width="3" height="14"/>
<rect x="667" y="431" width="3" height="15"/>
<rect x="671" y="430" width="3" height="16"/>
<rect x="675" y="430" width="3" height="16"/>
<rect x="679" y="433" width="3" height="13"/>
<rect x="683" y="436" width="3" height="10"/>
<rect x="687" y="440" width="3" height="6"/>
<rect x="691" y="446" width="3" height="1"/>
<rect x="695" y="446" width="3" height="6"/>
<rect x="699" y="446" width="3" height="9"/>
<rect x="703" y="446" width="3" height="14"/>
<rect x="707" y="446" width="3" height="17"/>
<rect x="711" y="446" width="3" height="21"/>
<rect x="715" y="446" width="3" height="26"/>
<rect x="719" y="446" width="3" height="31"/>
<rect x="723" y="446" width="3" height="36"/>
<rect x="727" y="446" width="3" height="39"/>
<rect x="731" y="446" width="3" height="42"/>
<rect x="735" y="446" width="3" height="41"/>
<rect x="739" y="446" width="3" height="41"/>
<rect x="743" y="446" width="3" height="40"/>
<rect x="747" y="446" width="3" height="41"/>
<rect x="751" y="446" width="3" height="39"/>
<rect x="755" y="446" width="3" height="40"/>
<rect x="759" y="446" width="3" height="38"/>
<rect x="763" y="446" width="3" height="37"/>
<rect x="767" y="446" width="3" height="35"/>
<rect x="771" y="446" width="3" height="34"/>
<rect x="775" y="446" width="3" height="32"/>
<rect x="779" y="446" width="3" height="30"/>
<rect x="783" y="446" width="3" height="29"/>
<rect x="787" y="446" width="3" height="29"/>
<rect x="791" y="446" width="3" height="29"/>
<rect x="795" y="446" width="3" height="26"/>
<rect x="799" y="446" width="3" height="25"/>
<rect x="803" y="446" width="3" height="25"/>
<rect x="807" y="446" width="3" height="26"/>
<rect x="811" y="446" width="3" height="27"/>
<rect x="815" y="446" width="3" height="27"/>
<rect x="819" y="446" width="3" height="25"/>
<rect x="823" y="446" width="3" height="24"/>
<rect x="827" y="446" width="3" height="18"/>
<rect x="831" y="446" width="3" height="14"/>
<rect x="835" y="446" width="3" height="8"/>
<rect x="839" y="446" width="3" height="3"/>
<rect x="843" y="443" width="3" height="3"/>
<rect x="847" y="440" width="3" height="6"/>
<rect x="851" y="438" width="3" height="8"/>
<rect x="855" y="435" width="3" height="11"/>
<rect x="859" y="433" width="3" height="13"/>
<rect x="863" y="431" width="3" height="15"/>
<rect x="867" y="431" width="3" height="15"/>
<rect x="871" y="432" width="3" height="14"/>
<rect x="875" y="433" width="3" height="13"/>
<rect x="879" y="437" width="3" height="9"/>
<rect x="883" y="442" width="3" height="4"/>
<rect x="887" y="446" width="3" height="1"/>
<rect x="891" y="446" width="3" height="4"/>
<rect x="895" y="446" width="3" height="5"/>
<rect x="899" y="446" width="3" height="8"/>
<rect x="903" y="446" width="3" height="10"/>
<rect x="907" y="446" width="3" height="11"/>
<rect x="911" y="446" width="3" height="12"/>
<rect x="915" y="446" width="3" height="13"/>
<rect x="919" y="446" width="3" height="17"/>
<rect x="923" y="446" width="3" height="18"/>
</g>
<path d="M23.5 463v2M26.5 459v2M29.5 455v2M719.5 457v2M859.5 446v2M3 481.5h1M473 481.5h14M745 481.5h2M777 481.5h4M4 480.5h2M470 480.5h3M487 480.5h3M743 480.5h2M781 480.5h3M6 479.5h1M468 479.5h2M490 479.5h3M741 479.5h2M784 479.5h3M7 478.5h2M465 478.5h3M493 478.5h2M740 478.5h1M787 478.5h3M9 477.5h2M463 477.5h2M495 477.5h2M738 477.5h2M790 477.5h4M11 476.5h1M460 476.5h3M497 476.5h2M737 476.5h1M794 476.5h4M12 475.5h1M458 475.5h2M499 475.5h2M736 475.5h1M798 475.5h3M13 474.5h1M455 474.5h3M501 474.5h2M735 474.5h1M801 474.5h4M14 473.5h1M452 473.5h3M503 473.5h2M734 473.5h1M805 473.5h4M15 472.5h1M449 472.5h3M505 472.5h1M733 472.5h1M809 472.5h5M16 471.5h1M443 471.5h6M506 471.5h2M732 471.5h1M814 471.5h13M17 470.5h1M438 470.5h5M508 470.5h1M731 470.5h1M827 470.5h2M18 469.5h1M435 469.5h3M509 469.5h1M730 469.5h1M829 469.5h1M19 468.5h1M431 468.5h4M510 468.5h2M729 468.5h1M830 468.5h2M20 467.5h1M426 467.5h5M512 467.5h1M728 467.5h1M832 467.5h2M21 466.5h1M422 466.5h4M513 466.5h1M727 466.5h1M834 466.5h2M22 465.5h1M418 465.5h4M514 465.5h2M726 465.5h1M836 465.5h2M24 462.5h1M226 462.5h4M243 462.5h2M408 462.5h4M519 462.5h2M723 462.5h1M842 462.5h1M25 461.5h1M223 461.5h3M245 461.5h3M406 461.5h2M521 461.5h2M722 461.5h1M843 461.5h2M27 458.5h1M215 458.5h3M253 458.5h3M403 458.5h1M526 458.5h1M575 458.5h3M581 458.5h4M847 458.5h2M28 457.5h1M213 457.5h2M256 457.5h3M402 457.5h1M527 457.5h1M572 457.5h3M585 457.5h3M849 457.5h1M30 454.5h1M147 454.5h2M170 454.5h3M207 454.5h2M265 454.5h3M398 454.5h2M531 454.5h2M565 454.5h2M593 454.5h2M716 454.5h1M852 454.5h1M920 454.5h2M31 453.5h1M145 453.5h2M173 453.5h2M205 453.5h2M268 453.5h4M397 453.5h1M533 453.5h1M563 453.5h2M595 453.5h2M715 453.5h1M853 453.5h1M918 453.5h2M32 452.5h1M143 452.5h2M175 452.5h3M202 452.5h3M272 452.5h4M395 452.5h2M534 452.5h2M561 452.5h2M597 452.5h1M714 452.5h1M854 452.5h1M916 452.5h2M33 451.5h1M142 451.5h1M178 451.5h6M197 451.5h5M276 451.5h3M393 451.5h2M536 451.5h2M559 451.5h2M598 451.5h2M713 451.5h1M855 451.5h1M915 451.5h1M34 450.5h1M140 450.5h2M184 450.5h13M279 450.5h2M392 450.5h1M538 450.5h2M556 450.5h3M600 450.5h1M712 450.5h1M856 450.5h1M913 450.5h2M35 449.5h1M139 449.5h1M281 449.5h3M390 449.5h2M540 449.5h2M552 449.5h4M601 449.5h1M711 449.5h1M857 449.5h1M911 449.5h2M36 448.5h1M138 448.5h1M284 448.5h8M389 448.5h1M542 448.5h10M602 448.5h1M710 448.5h1M858 448.5h1M909 448.5h2M37 447.5h1M137 447.5h1M292 447.5h20M388 447.5h1M603 447.5h2M709 447.5h1M908 447.5h1M38 446.5h1M136 446.5h1M312 446.5h4M387 446.5h1M605 446.5h1M708 446.5h1M907 446.5h1M39 445.5h1M134 445.5h2M316 445.5h8M385 445.5h2M606 445.5h1M707 445.5h1M860 445.5h1M905 445.5h2M40 444.5h1M133 444.5h1M324 444.5h8M384 444.5h1M607 444.5h2M706 444.5h1M861 444.5h1M904 444.5h1M41 443.5h1M132 443.5h1M332 443.5h2M383 443.5h1M609 443.5h1M705 443.5h1M862 443.5h1M903 443.5h1M42 442.5h2M130 442.5h2M334 442.5h3M382 442.5h1M610 442.5h1M704 442.5h1M863 442.5h2M902 442.5h1M44 441.5h1M78 441.5h8M129 441.5h1M337 441.5h2M381 441.5h1M611 441.5h2M703 441.5h1M865 441.5h1M900 441.5h2M45 440.5h2M72 440.5h6M86 440.5h6M128 440.5h1M339 440.5h2M379 440.5h2M613 440.5h1M702 440.5h1M866 440.5h1M898 440.5h2M47 439.5h2M68 439.5h4M92 439.5h3M127 439.5h1M341 439.5h2M378 439.5h1M614 439.5h2M700 439.5h2M867 439.5h2M896 439.5h2M49 438.5h2M64 438.5h4M95 438.5h3M125 438.5h2M343 438.5h2M376 438.5h2M616 438.5h2M646 438.5h17M698 438.5h2M869 438.5h1M894 438.5h2M51 437.5h4M59 437.5h5M98 437.5h3M124 437.5h1M345 437.5h2M374 437.5h2M618 437.5h4M640 437.5h6M663 437.5h2M696 437.5h2M870 437.5h2M892 437.5h2M55 436.5h4M101 436.5h3M123 436.5h1M347 436.5h4M372 436.5h2M622 436.5h4M636 436.5h4M665 436.5h3M694 436.5h2M872 436.5h2M890 436.5h2M104 435.5h6M119 435.5h4M351 435.5h5M370 435.5h2M626 435.5h10M668 435.5h4M692 435.5h2M874 435.5h5M886 435.5h4M110 434.5h9M356 434.5h14M672 434.5h5M690 434.5h2M879 434.5h7M149 455.5h5M167 455.5h3M209 455.5h2M262 455.5h3M400 455.5h1M530 455.5h1M567 455.5h2M590 455.5h3M717 455.5h1M851 455.5h1M922 455.5h2M154 456.5h13M211 456.5h2M259 456.5h3M401 456.5h1M528 456.5h2M569 456.5h3M588 456.5h2M718 456.5h1M850 456.5h1M218 459.5h2M251 459.5h2M404 459.5h1M524 459.5h2M578 459.5h3M720 459.5h1M846 459.5h1M220 460.5h3M248 460.5h3M405 460.5h1M523 460.5h1M721 460.5h1M845 460.5h1M230 463.5h13M412 463.5h3M518 463.5h1M724 463.5h1M840 463.5h2M415 464.5h3M516 464.5h2M725 464.5h1M838 464.5h2M677 433.5h13M747 482.5h2M773 482.5h4M749 483.5h3M770 483.5h3M752 484.5h3M767 484.5h3M755 485.5h12" fill="none" stroke="#ff0000" stroke-width="1" shape-rendering="crispEdges"/>
<g shape-rendering="crispEdges" stroke="#c0c0c0" stroke-width="1" stroke-dasharray="3,3">
<line x1="5" y1="519.5" x2="1166" y2="519.5"/>
<line x1="5" y1="552.5" x2="1166" y2="552.5"/>
</g>
<path d="M34.5 527v2M64.5 541v2M65.5 539v2M66.5 536v3M67.5 534v2M68.5 532v2M85.5 529v2M86.5 526v3M87.5 523v3M88.5 521v2M104.5 529v2M105.5 531v2M106.5 533v3M107.5 536v2M108.5 538v2M156.5 532v2M157.5 534v2M158.5 536v2M159.5 538v2M160.5 540v2M162.5 538v2M234.5 538v2M265.5 536v2M266.5 534v2M267.5 532v2M272.5 529v2M273.5 531v2M274.5 533v3M275.5 536v2M276.5 538v2M293.5 534v2M294.5 536v2M295.5 538v2M296.5 540v2M297.5 538v2M298.5 536v2M299.5 534v2M300.5 532v2M326.5 530v2M329.5 531v2M331.5 528v2M366.5 536v2M368.5 539v2M369.5 541v2M370.5 543v2M371.5 545v2M372.5 547v2M377.5 549v2M379.5 546v2M426.5 547v2M433.5 546v2M435.5 549v2M456.5 557v2M457.5 555v2M458.5 552v3M459.5 550v2M460.5 548v2M470.5 549v2M509.5 533v2M511.5 530v2M529.5 528v2M530.5 530v2M531.5 532v2M542.5 541v2M564.5 546v2M565.5 544v2M566.5 542v2M567.5 540v2M568.5 538v2M577.5 534v2M579.5 531v2M600.5 522v2M601.5 524v3M602.5 527v3M603.5 530v3M604.5 533v2M611.5 526v2M617.5 528v2M618.5 530v2M619.5 532v2M620.5 534v2M629.5 536v2M631.5 539v2M634.5 538v2M677.5 528v2M678.5 530v2M679.5 532v2M689.5 543v2M691.5 546v2M732.5 558v2M733.5 555v3M734.5 552v3M735.5 549v3M736.5 547v2M749.5 550v2M750.5 548v2M751.5 546v2M754.5 547v2M757.5 548v2M759.5 545v2M794.5 542v2M821.5 546v2M822.5 544v2M823.5 542v2M824.5 540v2M825.5 538v2M827.5 535v2M876.5 532v2M877.5 534v2M878.5 536v2M879.5 538v2M880.5 540v2M897.5 540v2M899.5 543v2M918.5 547v2M4 532.5h2M9 532.5h1M38 532.5h2M41 532.5h1M46 532.5h2M69 532.5h1M73 532.5h2M83 532.5h1M172 532.5h5M316 532.5h5M327 532.5h1M352 532.5h2M358 532.5h3M510 532.5h1M516 532.5h1M606 532.5h1M641 532.5h1M830 532.5h1M875 532.5h1M6 533.5h3M40 533.5h1M48 533.5h1M75 533.5h2M82 533.5h1M155 533.5h1M171 533.5h1M177 533.5h1M256 533.5h1M291 533.5h2M301 533.5h2M314 533.5h2M328 533.5h1M354 533.5h4M361 533.5h2M578 533.5h1M605 533.5h1M640 533.5h1M829 533.5h1M10 531.5h1M37 531.5h1M42 531.5h2M45 531.5h1M70 531.5h3M84 531.5h1M100 531.5h1M268 531.5h1M321 531.5h1M350 531.5h2M514 531.5h2M517 531.5h2M607 531.5h1M642 531.5h2M831 531.5h1M873 531.5h2M11 530.5h1M36 530.5h1M44 530.5h1M99 530.5h1M101 530.5h2M269 530.5h2M322 530.5h1M330 530.5h1M349 530.5h1M513 530.5h1M519 530.5h2M580 530.5h1M608 530.5h1M644 530.5h1M656 530.5h5M832 530.5h1M870 530.5h3M12 529.5h1M35 529.5h1M98 529.5h1M103 529.5h1M271 529.5h1M323 529.5h1M325 529.5h1M346 529.5h3M512 529.5h1M521 529.5h2M581 529.5h2M609 529.5h1M645 529.5h2M654 529.5h2M661 529.5h1M833 529.5h1M868 529.5h2M13 528.5h1M97 528.5h1M324 528.5h1M334 528.5h4M342 528.5h4M523 528.5h3M583 528.5h3M610 528.5h1M647 528.5h3M653 528.5h1M662 528.5h2M834 528.5h1M851 528.5h2M867 528.5h1M14 527.5h2M95 527.5h2M332 527.5h2M338 527.5h4M526 527.5h3M586 527.5h2M615 527.5h2M650 527.5h3M664 527.5h13M835 527.5h1M838 527.5h3M849 527.5h2M853 527.5h2M866 527.5h1M16 526.5h2M33 526.5h1M93 526.5h2M588 526.5h3M613 526.5h2M836 526.5h2M841 526.5h1M847 526.5h2M855 526.5h2M865 526.5h1M18 525.5h15M92 525.5h1M591 525.5h3M612 525.5h1M842 525.5h2M845 525.5h2M857 525.5h2M862 525.5h3M49 534.5h2M77 534.5h2M81 534.5h1M154 534.5h1M170 534.5h1M178 534.5h1M246 534.5h3M255 534.5h1M257 534.5h1M284 534.5h2M289 534.5h2M303 534.5h3M313 534.5h1M363 534.5h2M532 534.5h1M622 534.5h4M638 534.5h2M680 534.5h1M828 534.5h1M51 535.5h2M79 535.5h2M153 535.5h1M169 535.5h1M179 535.5h1M243 535.5h3M249 535.5h1M254 535.5h1M258 535.5h2M283 535.5h1M286 535.5h3M306 535.5h7M365 535.5h1M506 535.5h3M533 535.5h2M621 535.5h1M626 535.5h3M637 535.5h1M681 535.5h1M53 536.5h2M143 536.5h10M164 536.5h5M180 536.5h1M236 536.5h2M241 536.5h2M250 536.5h2M253 536.5h1M260 536.5h1M282 536.5h1M504 536.5h2M535 536.5h2M574 536.5h3M636 536.5h1M682 536.5h1M55 537.5h2M141 537.5h2M163 537.5h1M181 537.5h1M226 537.5h3M235 537.5h1M238 537.5h3M252 537.5h1M261 537.5h2M281 537.5h1M502 537.5h2M537 537.5h1M570 537.5h4M635 537.5h1M683 537.5h1M826 537.5h1M57 538.5h4M140 538.5h1M182 538.5h2M224 538.5h2M229 538.5h1M263 538.5h2M278 538.5h3M367 538.5h1M501 538.5h1M538 538.5h2M569 538.5h1M630 538.5h1M684 538.5h1M61 539.5h1M138 539.5h2M184 539.5h2M223 539.5h1M230 539.5h1M277 539.5h1M500 539.5h1M540 539.5h1M685 539.5h1M896 539.5h1M62 540.5h1M109 540.5h1M132 540.5h2M137 540.5h1M161 540.5h1M186 540.5h2M222 540.5h1M231 540.5h1M233 540.5h1M488 540.5h1M499 540.5h1M541 540.5h1M633 540.5h1M686 540.5h1M796 540.5h1M895 540.5h1M63 541.5h1M110 541.5h2M130 541.5h2M134 541.5h3M188 541.5h2M195 541.5h2M221 541.5h1M232 541.5h1M479 541.5h2M486 541.5h2M489 541.5h1M498 541.5h1M632 541.5h1M687 541.5h1M780 541.5h1M795 541.5h1M797 541.5h1M894 541.5h1M89 522.5h1M598 522.5h2M90 523.5h1M596 523.5h2M91 524.5h1M594 524.5h2M844 524.5h1M859 524.5h3M112 542.5h1M129 542.5h1M190 542.5h2M193 542.5h2M197 542.5h2M219 542.5h2M477 542.5h2M481 542.5h2M485 542.5h1M490 542.5h2M497 542.5h1M688 542.5h1M778 542.5h2M781 542.5h1M798 542.5h2M881 542.5h1M893 542.5h1M898 542.5h1M907 542.5h3M113 543.5h2M128 543.5h1M192 543.5h1M199 543.5h2M217 543.5h2M387 543.5h3M476 543.5h1M483 543.5h2M492 543.5h5M543 543.5h1M766 543.5h3M777 543.5h1M782 543.5h1M800 543.5h1M882 543.5h2M891 543.5h2M905 543.5h2M910 543.5h3M115 544.5h6M126 544.5h2M201 544.5h1M214 544.5h3M385 544.5h2M390 544.5h4M475 544.5h1M544 544.5h1M760 544.5h6M769 544.5h2M774 544.5h3M783 544.5h1M793 544.5h1M801 544.5h2M884 544.5h2M889 544.5h2M902 544.5h3M913 544.5h2M121 545.5h2M125 545.5h1M202 545.5h1M210 545.5h4M380 545.5h5M394 545.5h3M404 545.5h2M428 545.5h5M474 545.5h1M545 545.5h1M690 545.5h1M752 545.5h1M771 545.5h3M784 545.5h2M790 545.5h3M803 545.5h3M886 545.5h3M900 545.5h2M915 545.5h2M123 546.5h2M203 546.5h1M206 546.5h4M397 546.5h1M403 546.5h1M406 546.5h3M415 546.5h6M427 546.5h1M473 546.5h1M546 546.5h1M753 546.5h1M786 546.5h4M806 546.5h4M917 546.5h1M204 547.5h2M398 547.5h1M402 547.5h1M409 547.5h2M413 547.5h2M421 547.5h1M472 547.5h1M547 547.5h1M560 547.5h4M698 547.5h3M758 547.5h1M810 547.5h8M373 549.5h1M400 549.5h1M423 549.5h1M425 549.5h1M461 549.5h1M550 549.5h4M557 549.5h1M702 549.5h1M706 549.5h2M709 549.5h1M739 549.5h6M755 549.5h1M919 549.5h1M921 549.5h2M374 550.5h2M424 550.5h1M462 550.5h2M554 550.5h3M703 550.5h1M705 550.5h1M710 550.5h2M745 550.5h1M756 550.5h1M920 550.5h1M376 551.5h1M436 551.5h5M464 551.5h2M469 551.5h1M704 551.5h1M712 551.5h1M746 551.5h2M378 548.5h1M399 548.5h1M401 548.5h1M411 548.5h2M422 548.5h1M434 548.5h1M471 548.5h1M548 548.5h2M558 548.5h2M692 548.5h6M701 548.5h1M708 548.5h1M737 548.5h2M818 548.5h3M923 548.5h1M441 552.5h2M466 552.5h3M713 552.5h1M748 552.5h1M443 553.5h2M714 553.5h1M445 554.5h2M715 554.5h1M447 555.5h2M716 555.5h2M449 556.5h1M718 556.5h4M450 557.5h2M722 557.5h4M452 558.5h4M726 558.5h4M730 559.5h2" fill="none" stroke="#1e90ff" stroke-width="1" shape-rendering="crispEdges"/>
<g shape-rendering="crispEdges" fill="#000">
<rect x="3" y="24" width="1164" height="1"/>
<rect x="3" y="24" width="1" height="574"/>
<rect x="1166" y="24" width="1" height="554"/>
<rect x="3" y="421" width="1164" height="1"/>
<rect x="3" y="423" width="1164" height="1"/>
<rect x="3" y="491" width="1164" height="1"/>
<rect x="3" y="493" width="1164" height="1"/>
<rect x="3" y="577" width="1164" height="1"/>
<rect x="4" y="422" width="1210" height="1" fill="#fff"/>
<rect x="4" y="492" width="1210" height="1" fill="#fff"/>
<rect x="1167" y="55" width="3" height="1"/>
<rect x="1167" y="88" width="3" height="1"/>
<rect x="1167" y="121" width="3" height="1"/>
<rect x="1167" y="154" width="3" height="1"/>
<rect x="1167" y="187" width="3" height="1"/>
<rect x="1167" y="220" width="3" height="1"/>
<rect x="1167" y="253" width="3" height="1"/>
<rect x="1167" y="286" width="3" height="1"/>
<rect x="1167" y="319" width="3" height="1"/>
<rect x="1167" y="352" width="3" height="1"/>
<rect x="1167" y="385" width="3" height="1"/>
<rect x="1167" y="418" width="3" height="1"/>
<rect x="1167" y="446" width="2" height="1"/>
<rect x="1167" y="519" width="2" height="1"/>
<rect x="1167" y="552" width="2" height="1"/>
<rect x="4" y="578" width="1" height="3"/>
<rect x="68" y="578" width="1" height="3"/>
<rect x="132" y="578" width="1" height="3"/>
<rect x="196" y="578" width="1" height="3"/>
<rect x="260" y="578" width="1" height="3"/>
<rect x="324" y="578" width="1" height="3"/>
<rect x="388" y="578" width="1" height="3"/>
<rect x="452" y="578" width="1" height="3"/>
<rect x="516" y="578" width="1" height="3"/>
<rect x="580" y="578" width="1" height="3"/>
<rect x="644" y="578" width="1" height="3"/>
<rect x="708" y="578" width="1" height="3"/>
<rect x="772" y="578" width="1" height="3"/>
<rect x="836" y="578" width="1" height="3"/>
<rect x="900" y="578" width="1" height="3"/>
</g>
<g shape-rendering="crispEdges"><rect x="3" y="328" width="6" height="6" fill="#00ff00"/><rect x="5" y="330" width="2" height="2" fill="#fff"/></g>
<g shape-rendering="crispEdges"><rect x="1160" y="328" width="6" height="6" fill="#00ff00"/><rect x="1162" y="330" width="2" height="2" fill="#fff"/></g>
<g shape-rendering="crispEdges"><rect x="3" y="405" width="6" height="6" fill="#0000ff"/><rect x="5" y="407" width="2" height="2" fill="#fff"/></g>
<g shape-rendering="crispEdges"><rect x="1160" y="405" width="6" height="6" fill="#0000ff"/><rect x="1162" y="407" width="2" height="2" fill="#fff"/></g>
<polygon points="7,35 14,35 10.5,31" fill="#000"/>
</svg>

<div class="t9" style="left:1172px;top:50.9px;transform:scaleX(0.9118);">0.72760</div>
<div class="t9" style="left:1172px;top:83.9px;transform:scaleX(0.9118);">0.72190</div>
<div class="t9" style="left:1172px;top:116.9px;transform:scaleX(0.9118);">0.71635</div>
<div class="t9" style="left:1172px;top:149.9px;transform:scaleX(0.9118);">0.71080</div>
<div class="t9" style="left:1172px;top:182.9px;transform:scaleX(0.9118);">0.70510</div>
<div class="t9" style="left:1172px;top:215.9px;transform:scaleX(0.9118);">0.69955</div>
<div class="t9" style="left:1172px;top:248.9px;transform:scaleX(0.9118);">0.69400</div>
<div class="t9" style="left:1172px;top:314.9px;transform:scaleX(0.9118);">0.68275</div>
<div class="t9" style="left:1172px;top:347.9px;transform:scaleX(0.9118);">0.67720</div>
<div class="t9" style="left:1172px;top:413.9px;transform:scaleX(0.9118);">0.66595</div>
<div class="t9" style="left:1170px;top:425.9px;transform:scaleX(0.9118);">0.002968</div>
<div class="t9" style="left:1170px;top:441.9px;transform:scaleX(0.9118);">0.00</div>
<div class="t9" style="left:1170px;top:480.9px;transform:scaleX(0.9118);">-0.006047</div>
<div class="t9" style="left:1170px;top:496.9px;transform:scaleX(0.9118);">100</div>
<div class="t9" style="left:1170px;top:514.9px;transform:scaleX(0.9118);">70</div>
<div class="t9" style="left:1170px;top:547.9px;transform:scaleX(0.9118);">30</div>
<div class="t9" style="left:1170px;top:565.9px;transform:scaleX(0.9118);">0</div>
<div class="pbox" style="top:211px;background:#ff0000"><div class="t9 w" style="left:4px;top:0.9px;transform:scaleX(0.911)">0.70001</div></div>
<div class="pbox" style="top:279px;background:#ff0000"><div class="t9 w" style="left:4px;top:0.9px;transform:scaleX(0.911)">0.68852</div></div>
<div class="pbox" style="top:325px;background:#00ff00"><div class="t9 w" style="left:4px;top:0.9px;transform:scaleX(0.911)">0.68070</div></div>
<div class="pbox" style="top:382px;background:#000000"><div class="t9 w" style="left:4px;top:0.9px;transform:scaleX(0.911)">0.67123</div></div>
<div class="pbox" style="top:402px;background:#0000ff"><div class="t9 w" style="left:4px;top:0.9px;transform:scaleX(0.911)">0.66755</div></div>
<div class="t9" style="left:3.1px;top:581.9px;transform:scaleX(0.9263);">7 Jan 2019</div>
<div class="t9" style="left:67.1px;top:581.9px;transform:scaleX(0.9263);">25 Jan 2019</div>
<div class="t9" style="left:131.1px;top:581.9px;transform:scaleX(0.9263);">13 Feb 2019</div>
<div class="t9" style="left:195.1px;top:581.9px;transform:scaleX(0.9263);">4 Mar 2019</div>
<div class="t9" style="left:259.1px;top:581.9px;transform:scaleX(0.9263);">22 Mar 2019</div>
<div class="t9" style="left:323.1px;top:581.9px;transform:scaleX(0.9263);">10 Apr 2019</div>
<div class="t9" style="left:387.1px;top:581.9px;transform:scaleX(0.9263);">29 Apr 2019</div>
<div class="t9" style="left:451.1px;top:581.9px;transform:scaleX(0.9263);">17 May 2019</div>
<div class="t9" style="left:515.1px;top:581.9px;transform:scaleX(0.9263);">5 Jun 2019</div>
<div class="t9" style="left:579.1px;top:581.9px;transform:scaleX(0.9263);">24 Jun 2019</div>
<div class="t9" style="left:643.1px;top:581.9px;transform:scaleX(0.9263);">12 Jul 2019</div>
<div class="t9" style="left:707.1px;top:581.9px;transform:scaleX(0.9263);">31 Jul 2019</div>
<div class="t9" style="left:771.1px;top:581.9px;transform:scaleX(0.9263);">19 Aug 2019</div>
<div class="t9" style="left:835.1px;top:581.9px;transform:scaleX(0.9263);">6 Sep 2019</div>
<div class="t9" style="left:899.1px;top:581.9px;transform:scaleX(0.9263);">25 Sep 2019</div>
<div class="t9" style="left:19.5px;top:27.9px;transform:scaleX(0.9797);">AUDUSD,Daily</div>
<div class="t9" style="left:90.5px;top:27.9px;transform:scaleX(0.9118);">0.67016</div>
<div class="t9" style="left:126.5px;top:27.9px;transform:scaleX(0.9118);">0.67159</div>
<div class="t9" style="left:162.5px;top:27.9px;transform:scaleX(0.9118);">0.66967</div>
<div class="t9" style="left:198.5px;top:27.9px;transform:scaleX(0.9118);">0.67123</div>
<div class="t9" style="left:8px;top:427.9px;transform:scaleX(0.9457);">MACD(12,26,9) -0.002407 -0.001339</div>
<div class="t9" style="left:8px;top:497.9px;transform:scaleX(0.936);">RSI(14) 35.0188</div>

<!-- one click trading panel -->
<div class="red" id="sellBlk"></div>
<div class="red" id="buyBlk"></div>
<div class="red" id="sellTab"></div>
<div class="red" id="buyTab"></div>
<div class="patch" style="left:8px"></div><div class="patch" style="left:175px"></div>
<div class="uline" style="left:11px;width:44px"></div><div class="uline2" style="left:11px;width:44px"></div>
<div class="uline" style="left:178px;width:44px"></div><div class="uline2" style="left:178px;width:44px"></div>
<div class="pl lbl" style="left:19px;transform:scaleX(0.93)">SELL</div>
<div class="pl lbl" style="left:187.2px;transform:scaleX(0.97)">BUY</div>
<div class="pl sm" style="left:27px">0.67</div>
<div class="pl big" style="left:53.5px">12</div>
<div class="pl sup" style="left:95px">3</div>
<div class="pl sm" style="left:137px">0.67</div>
<div class="pl big" style="left:164.8px">14</div>
<div class="pl sup" style="left:205px">3</div>
<div id="spin">
<div class="sbtn" style="left:1px"></div><div class="ssep" style="left:20px"></div>
<div class="ssep" style="left:88px"></div><div class="sbtn" style="left:90px"></div>
</div>
<svg width="120" height="30" style="position:absolute;left:60px;top:40px"><polygon points="9,13 14,13 11.5,16.2" fill="#4360d2"/><polygon points="98,16 103,16 100.5,12.8" fill="#4360d2"/></svg>
<div id="vol">5.00</div>

<!-- chart tabs -->
<div id="tabs">
<div id="tabsHi"></div>
<div id="tabsTop"></div>
<div id="tabL"></div>
<div id="acttab"></div>
<div class="tab" style="left:17px;transform:scaleX(1)">EURUSD,Daily</div>
<div class="tab act" style="left:120px;transform:scaleX(1)">AUDUSD,Daily</div>
<div class="tab" style="left:223.5px;transform:scaleX(1)">USDCHF,Daily</div>
<div class="tab" style="left:324.7px;transform:scaleX(1)">USDCAD,Daily</div>
<div class="tab" style="left:426.7px;transform:scaleX(1.015)">USDCNH,Daily</div>
<div class="tab" style="left:531.7px;transform:scaleX(1)">XAUUSD,H4</div>
<div class="tab" style="left:623px;transform:scaleX(1)">DJ30,H4</div>
<div class="tab" style="left:692.7px;transform:scaleX(1.015)">USDOil,H1</div>
<div class="tab" style="left:775px;transform:scaleX(0.985)">USDCHF,H1</div>
<div class="tab" style="left:864.8px;transform:scaleX(0.972)">GBPUSD,H1</div>
<div class="tab" style="left:956.5px;transform:scaleX(0.972)">EURUSD,H1</div>
<div class="tab" style="left:1047.7px;transform:scaleX(0.995)">GBPAUD,H1</div>
<div class="tab" style="left:1139px;transform:scaleX(0.94)">USDJP</div>
<div class="sep" style="left:313px"></div>
<div class="sep" style="left:417px"></div>
<div class="sep" style="left:521px"></div>
<div class="sep" style="left:613px"></div>
<div class="sep" style="left:681px"></div>
<div class="sep" style="left:765px"></div>
<div class="sep" style="left:853px"></div>
<div class="sep" style="left:945px"></div>
<div class="sep" style="left:1037px"></div>
<div class="sep" style="left:1129px"></div>
<svg width="40" height="23" style="position:absolute;left:1172px;top:0"><polygon points="13.2,7.8 13.2,14.2 9.6,11" fill="#9a9a9a"/><polygon points="28.8,7.5 28.8,14.5 32.6,11" fill="#000"/></svg>
</div>
</body>
</html>
